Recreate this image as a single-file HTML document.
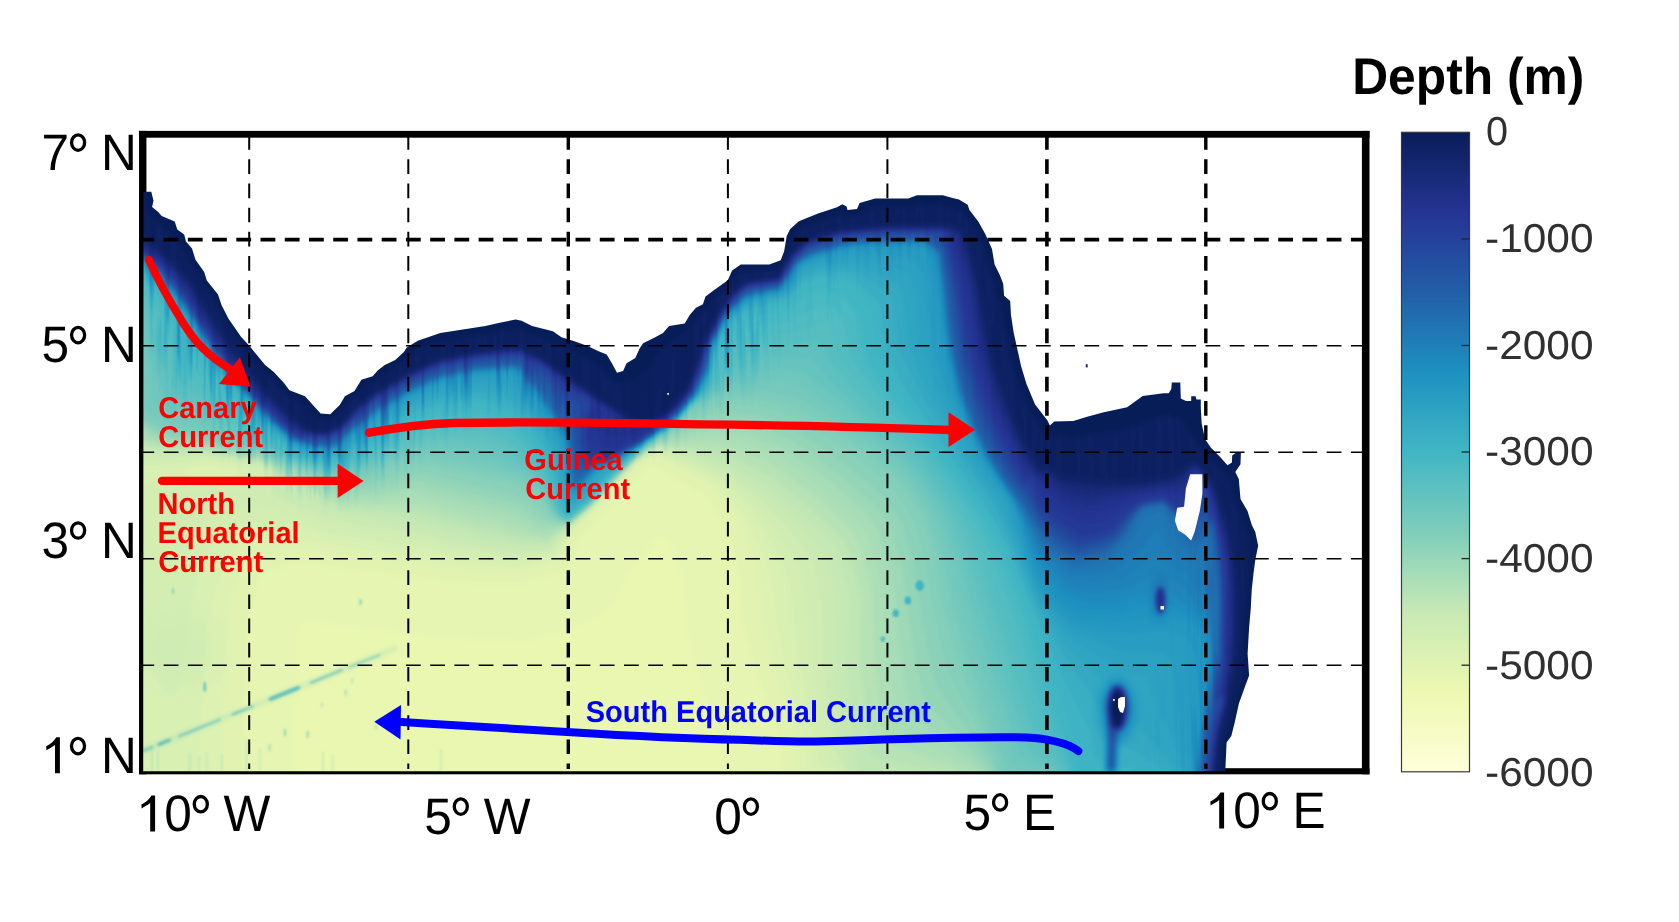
<!DOCTYPE html>
<html><head><meta charset="utf-8"><title>Gulf of Guinea bathymetry</title>
<style>html,body{margin:0;padding:0;background:#fff}svg{display:block}text{font-family:"Liberation Sans",sans-serif;text-rendering:geometricPrecision}</style>
</head><body>
<svg width="1679" height="922" viewBox="0 0 1679 922">
<defs>
<filter id="cmap" x="0" y="0" width="1679" height="922" filterUnits="userSpaceOnUse" color-interpolation-filters="sRGB"><feComponentTransfer>
<feFuncR type="table" tableValues="0.031 0.145 0.133 0.114 0.255 0.498 0.780 0.929 1.000"/><feFuncG type="table" tableValues="0.114 0.204 0.369 0.569 0.714 0.804 0.914 0.973 1.000"/><feFuncB type="table" tableValues="0.345 0.580 0.659 0.753 0.769 0.733 0.706 0.694 0.851"/>
</feComponentTransfer></filter>
<filter id="b1" x="0" y="0" width="1679" height="922" filterUnits="userSpaceOnUse" color-interpolation-filters="sRGB"><feGaussianBlur stdDeviation="1"/></filter>
<filter id="b1_5" x="0" y="0" width="1679" height="922" filterUnits="userSpaceOnUse" color-interpolation-filters="sRGB"><feGaussianBlur stdDeviation="1.5"/></filter>
<filter id="b2" x="0" y="0" width="1679" height="922" filterUnits="userSpaceOnUse" color-interpolation-filters="sRGB"><feGaussianBlur stdDeviation="2"/></filter>
<filter id="b3" x="0" y="0" width="1679" height="922" filterUnits="userSpaceOnUse" color-interpolation-filters="sRGB"><feGaussianBlur stdDeviation="3"/></filter>
<filter id="b4" x="0" y="0" width="1679" height="922" filterUnits="userSpaceOnUse" color-interpolation-filters="sRGB"><feGaussianBlur stdDeviation="4"/></filter>
<filter id="b5" x="0" y="0" width="1679" height="922" filterUnits="userSpaceOnUse" color-interpolation-filters="sRGB"><feGaussianBlur stdDeviation="5"/></filter>
<filter id="b6" x="0" y="0" width="1679" height="922" filterUnits="userSpaceOnUse" color-interpolation-filters="sRGB"><feGaussianBlur stdDeviation="6"/></filter>
<filter id="b8" x="0" y="0" width="1679" height="922" filterUnits="userSpaceOnUse" color-interpolation-filters="sRGB"><feGaussianBlur stdDeviation="8"/></filter>
<filter id="b10" x="0" y="0" width="1679" height="922" filterUnits="userSpaceOnUse" color-interpolation-filters="sRGB"><feGaussianBlur stdDeviation="10"/></filter>
<filter id="b12" x="0" y="0" width="1679" height="922" filterUnits="userSpaceOnUse" color-interpolation-filters="sRGB"><feGaussianBlur stdDeviation="12"/></filter>
<filter id="b15" x="0" y="0" width="1679" height="922" filterUnits="userSpaceOnUse" color-interpolation-filters="sRGB"><feGaussianBlur stdDeviation="15"/></filter>
<filter id="b18" x="0" y="0" width="1679" height="922" filterUnits="userSpaceOnUse" color-interpolation-filters="sRGB"><feGaussianBlur stdDeviation="18"/></filter>
<filter id="b20" x="0" y="0" width="1679" height="922" filterUnits="userSpaceOnUse" color-interpolation-filters="sRGB"><feGaussianBlur stdDeviation="20"/></filter>
<filter id="b25" x="0" y="0" width="1679" height="922" filterUnits="userSpaceOnUse" color-interpolation-filters="sRGB"><feGaussianBlur stdDeviation="25"/></filter>
<filter id="b30" x="0" y="0" width="1679" height="922" filterUnits="userSpaceOnUse" color-interpolation-filters="sRGB"><feGaussianBlur stdDeviation="30"/></filter>
<filter id="b40" x="0" y="0" width="1679" height="922" filterUnits="userSpaceOnUse" color-interpolation-filters="sRGB"><feGaussianBlur stdDeviation="40"/></filter>
<filter id="b50" x="0" y="0" width="1679" height="922" filterUnits="userSpaceOnUse" color-interpolation-filters="sRGB"><feGaussianBlur stdDeviation="50"/></filter>
<filter id="b60" x="0" y="0" width="1679" height="922" filterUnits="userSpaceOnUse" color-interpolation-filters="sRGB"><feGaussianBlur stdDeviation="60"/></filter>
<clipPath id="oc"><path d="M143.2 771.25 L143.5 191.8 L151.3 191.8 L153.5 200.8 L152.1 206.9 L158.2 212.1 L161.7 216.1 L174.7 221.6 L177.3 229.4 L184.2 234.6 L186.0 241.6 L192.0 248.5 L195.5 259.8 L204.2 272.0 L206.8 280.6 L218.0 294.5 L221.5 304.9 L228.5 318.8 L234.6 327.5 L240.8 336.4 L249.5 346.0 L257.3 355.5 L265.1 365.0 L273.8 372.0 L284.2 383.3 L289.4 390.2 L305.0 396.3 L312.0 404.1 L320.6 413.6 L330.2 414.2 L339.7 405.0 L344.9 396.3 L354.5 391.0 L361.4 379.8 L372.7 376.3 L377.9 370.3 L384.8 365.0 L395.2 359.9 L403.9 352.0 L406.5 347.7 L417.8 340.8 L440.3 333.0 L462.9 329.5 L485.4 326.0 L500.8 322.5 L515.6 319.6 L521.6 320.8 L532.0 326.0 L552.9 331.2 L561.5 337.3 L573.7 341.0 L587.6 345.9 L598.0 351.1 L606.7 354.6 L611.9 363.3 L617.0 372.8 L623.1 371.1 L626.6 363.3 L635.3 358.1 L639.6 348.5 L643.1 343.3 L655.2 337.3 L663.0 332.9 L669.1 326.0 L684.7 323.4 L689.9 314.7 L696.0 307.8 L702.9 304.3 L705.5 296.5 L712.5 291.3 L727.8 280.2 L732.1 270.6 L740.8 264.6 L769.4 264.6 L780.7 260.2 L784.1 251.5 L786.7 235.9 L790.2 229.0 L798.9 221.2 L818.0 213.4 L837.0 207.3 L842.3 204.2 L846.6 206.4 L847.5 209.9 L857.0 209.0 L859.6 203.0 L875.2 198.6 L908.2 198.6 L916.9 195.2 L942.9 195.2 L951.6 197.8 L959.0 199.5 L967.7 204.7 L969.4 210.0 L978.1 221.2 L985.0 233.4 L992.0 249.0 L994.6 264.6 L999.8 275.0 L1003.2 283.7 L1004.1 295.8 L1010.2 301.0 L1011.0 314.9 L1013.6 332.3 L1016.9 347.3 L1021.2 366.4 L1026.4 383.8 L1035.1 404.6 L1047.3 420.2 L1049.9 425.4 L1054.2 421.6 L1073.3 421.1 L1087.2 416.7 L1102.8 412.4 L1127.1 407.2 L1142.7 395.9 L1163.5 393.3 L1168.7 393.3 L1171.3 389.0 L1171.8 382.4 L1180.3 382.4 L1180.8 398.5 L1186.0 401.1 L1191.2 401.1 L1191.2 396.3 L1195.6 396.3 L1196.5 399.4 L1200.8 399.4 L1200.8 408.1 L1201.7 423.7 L1205.1 439.3 L1211.0 447.8 L1219.7 456.5 L1227.5 465.2 L1231.9 462.6 L1232.2 455.6 L1236.2 452.5 L1240.9 452.5 L1240.5 464.3 L1235.3 472.1 L1238.8 479.0 L1240.5 499.0 L1247.5 511.1 L1251.8 525.0 L1255.3 532.0 L1258.2 545.8 L1255.3 559.7 L1253.5 573.6 L1251.8 589.2 L1251.2 600.0 L1250.8 608.2 L1249.1 627.7 L1247.6 653.7 L1249.1 675.4 L1244.3 688.4 L1238.9 703.6 L1234.6 723.1 L1231.3 736.1 L1226.6 742.6 L1225.3 771.2 Z"/></clipPath>
<path id="coast" d="M143.5 191.8 L151.3 191.8 L153.5 200.8 L152.1 206.9 L158.2 212.1 L161.7 216.1 L174.7 221.6 L177.3 229.4 L184.2 234.6 L186.0 241.6 L192.0 248.5 L195.5 259.8 L204.2 272.0 L206.8 280.6 L218.0 294.5 L221.5 304.9 L228.5 318.8 L234.6 327.5 L240.8 336.4 L249.5 346.0 L257.3 355.5 L265.1 365.0 L273.8 372.0 L284.2 383.3 L289.4 390.2 L305.0 396.3 L312.0 404.1 L320.6 413.6 L330.2 414.2 L339.7 405.0 L344.9 396.3 L354.5 391.0 L361.4 379.8 L372.7 376.3 L377.9 370.3 L384.8 365.0 L395.2 359.9 L403.9 352.0 L406.5 347.7 L417.8 340.8 L440.3 333.0 L462.9 329.5 L485.4 326.0 L500.8 322.5 L515.6 319.6 L521.6 320.8 L532.0 326.0 L552.9 331.2 L561.5 337.3 L573.7 341.0 L587.6 345.9 L598.0 351.1 L606.7 354.6 L611.9 363.3 L617.0 372.8 L623.1 371.1 L626.6 363.3 L635.3 358.1 L639.6 348.5 L643.1 343.3 L655.2 337.3 L663.0 332.9 L669.1 326.0 L684.7 323.4 L689.9 314.7 L696.0 307.8 L702.9 304.3 L705.5 296.5 L712.5 291.3 L727.8 280.2 L732.1 270.6 L740.8 264.6 L769.4 264.6 L780.7 260.2 L784.1 251.5 L786.7 235.9 L790.2 229.0 L798.9 221.2 L818.0 213.4 L837.0 207.3 L842.3 204.2 L846.6 206.4 L847.5 209.9 L857.0 209.0 L859.6 203.0 L875.2 198.6 L908.2 198.6 L916.9 195.2 L942.9 195.2 L951.6 197.8 L959.0 199.5 L967.7 204.7 L969.4 210.0 L978.1 221.2 L985.0 233.4 L992.0 249.0 L994.6 264.6 L999.8 275.0 L1003.2 283.7 L1004.1 295.8 L1010.2 301.0 L1011.0 314.9 L1013.6 332.3 L1016.9 347.3 L1021.2 366.4 L1026.4 383.8 L1035.1 404.6 L1047.3 420.2 L1049.9 425.4 L1054.2 421.6 L1073.3 421.1 L1087.2 416.7 L1102.8 412.4 L1127.1 407.2 L1142.7 395.9 L1163.5 393.3 L1168.7 393.3 L1171.3 389.0 L1171.8 382.4 L1180.3 382.4 L1180.8 398.5 L1186.0 401.1 L1191.2 401.1 L1191.2 396.3 L1195.6 396.3 L1196.5 399.4 L1200.8 399.4 L1200.8 408.1 L1201.7 423.7 L1205.1 439.3 L1211.0 447.8 L1219.7 456.5 L1227.5 465.2 L1231.9 462.6 L1232.2 455.6 L1236.2 452.5 L1240.9 452.5 L1240.5 464.3 L1235.3 472.1 L1238.8 479.0 L1240.5 499.0 L1247.5 511.1 L1251.8 525.0 L1255.3 532.0 L1258.2 545.8 L1255.3 559.7 L1253.5 573.6 L1251.8 589.2 L1251.2 600.0 L1250.8 608.2 L1249.1 627.7 L1247.6 653.7 L1249.1 675.4 L1244.3 688.4 L1238.9 703.6 L1234.6 723.1 L1231.3 736.1 L1226.6 742.6 L1225.3 771.2"/>
<linearGradient id="cbg" x1="0" y1="0" x2="0" y2="1">
<stop offset="0.000" stop-color="rgb(8,29,88)"/><stop offset="0.125" stop-color="rgb(37,52,148)"/><stop offset="0.250" stop-color="rgb(34,94,168)"/><stop offset="0.375" stop-color="rgb(29,145,192)"/><stop offset="0.500" stop-color="rgb(65,182,196)"/><stop offset="0.625" stop-color="rgb(127,205,187)"/><stop offset="0.750" stop-color="rgb(199,233,180)"/><stop offset="0.875" stop-color="rgb(237,248,177)"/><stop offset="1.000" stop-color="rgb(255,255,217)"/></linearGradient>
<filter id="streak" x="130" y="180" width="1140" height="600" filterUnits="userSpaceOnUse" color-interpolation-filters="sRGB">
<feTurbulence type="fractalNoise" baseFrequency="0.16 0.009" numOctaves="2" seed="7"/>
<feColorMatrix type="matrix" values="0 0 0 0 0  0 0 0 0 0  0 0 0 0 0  2.6 0 0 0 -1.12"/>
</filter>
<mask id="smask" maskUnits="userSpaceOnUse" x="130" y="180" width="1140" height="600">
<path d="M143.5 191.8 L151.3 191.8 L153.5 200.8 L152.1 206.9 L158.2 212.1 L161.7 216.1 L174.7 221.6 L177.3 229.4 L184.2 234.6 L186.0 241.6 L192.0 248.5 L195.5 259.8 L204.2 272.0 L206.8 280.6 L218.0 294.5 L221.5 304.9 L228.5 318.8 L234.6 327.5 L240.8 336.4 L249.5 346.0 L257.3 355.5 L265.1 365.0 L273.8 372.0 L284.2 383.3 L289.4 390.2 L305.0 396.3 L312.0 404.1 L320.6 413.6 L330.2 414.2 L339.7 405.0 L344.9 396.3 L354.5 391.0 L361.4 379.8 L372.7 376.3 L377.9 370.3 L384.8 365.0 L395.2 359.9 L403.9 352.0 L406.5 347.7 L417.8 340.8 L440.3 333.0 L462.9 329.5 L485.4 326.0 L500.8 322.5 L515.6 319.6 L521.6 320.8 L532.0 326.0 L552.9 331.2 L561.5 337.3 L573.7 341.0 L587.6 345.9 L598.0 351.1 L606.7 354.6 L611.9 363.3 L617.0 372.8 L623.1 371.1 L626.6 363.3 L635.3 358.1 L639.6 348.5 L643.1 343.3 L655.2 337.3 L663.0 332.9 L669.1 326.0 L684.7 323.4 L689.9 314.7 L696.0 307.8 L702.9 304.3 L705.5 296.5 L712.5 291.3" fill="none" stroke="#fff" stroke-width="130" stroke-linejoin="round" filter="url(#b20)"/>
<path d="M702.9 304.3 L705.5 296.5 L712.5 291.3 L727.8 280.2 L732.1 270.6 L740.8 264.6 L769.4 264.6 L780.7 260.2 L784.1 251.5 L786.7 235.9 L790.2 229.0 L798.9 221.2 L818.0 213.4 L837.0 207.3 L842.3 204.2 L846.6 206.4 L847.5 209.9 L857.0 209.0 L859.6 203.0 L875.2 198.6 L908.2 198.6 L916.9 195.2 L942.9 195.2 L951.6 197.8 L959.0 199.5 L967.7 204.7 L969.4 210.0 L978.1 221.2 L985.0 233.4 L992.0 249.0 L994.6 264.6 L999.8 275.0 L1003.2 283.7 L1004.1 295.8 L1010.2 301.0 L1011.0 314.9 L1013.6 332.3 L1016.9 347.3 L1021.2 366.4 L1026.4 383.8 L1035.1 404.6 L1047.3 420.2 L1049.9 425.4 L1054.2 421.6 L1073.3 421.1 L1087.2 416.7 L1102.8 412.4 L1127.1 407.2 L1142.7 395.9 L1163.5 393.3 L1168.7 393.3 L1171.3 389.0 L1171.8 382.4 L1180.3 382.4 L1180.8 398.5 L1186.0 401.1 L1191.2 401.1 L1191.2 396.3 L1195.6 396.3 L1196.5 399.4 L1200.8 399.4 L1200.8 408.1 L1201.7 423.7 L1205.1 439.3 L1211.0 447.8 L1219.7 456.5 L1227.5 465.2 L1231.9 462.6 L1232.2 455.6 L1236.2 452.5 L1240.9 452.5 L1240.5 464.3 L1235.3 472.1 L1238.8 479.0 L1240.5 499.0 L1247.5 511.1 L1251.8 525.0 L1255.3 532.0 L1258.2 545.8 L1255.3 559.7 L1253.5 573.6 L1251.8 589.2 L1251.2 600.0 L1250.8 608.2 L1249.1 627.7 L1247.6 653.7 L1249.1 675.4 L1244.3 688.4 L1238.9 703.6 L1234.6 723.1 L1231.3 736.1 L1226.6 742.6 L1225.3 771.2" fill="none" stroke="#fff" stroke-opacity=".4" stroke-width="110" stroke-linejoin="round" filter="url(#b20)"/>
</mask>
</defs>
<rect width="1679" height="922" fill="#fff"/>
<g fill="#000"><rect x="139.04" y="130.9" width="7.4" height="643.4"/><rect x="1361.9" y="130.9" width="7.6" height="643.4"/><rect x="139.04" y="130.9" width="1230.46" height="6.8"/><rect x="139.04" y="768.2" width="1230.46" height="6.1"/></g>
<g clip-path="url(#oc)"><g filter="url(#cmap)">
<g filter="url(#b2)">
<rect x="120" y="170" width="1160" height="620" fill="rgb(223,223,223)"/>
<path fill="rgb(221,221,221)" fill-rule="evenodd" d="M130.0,180.0 1270.0,180.0 1270.0,780.0 130.0,780.0Z"/>
<path fill="rgb(218,218,218)" fill-rule="evenodd" d="M130.0,180.0 1270.0,180.0 1270.0,780.0 726.5,780.0 723.1,748.0 705.2,698.0 688.3,638.0 680.9,572.0 672.9,548.0 667.1,540.0 662.0,537.1 660.0,537.1 656.0,540.2 629.8,568.0 627.6,572.0 621.4,588.0 617.2,596.0 610.0,605.8 602.0,613.6 592.0,620.3 582.0,624.9 536.0,638.7 526.0,640.4 514.0,640.6 444.0,638.5 322.0,623.1 306.0,621.6 302.0,622.0 300.0,625.0 295.1,704.0 292.1,780.0 130.0,780.0Z"/>
<path fill="rgb(214,214,214)" fill-rule="evenodd" d="M130.0,180.0 1270.0,180.0 1270.0,780.0 783.3,780.0 779.3,738.0 759.4,682.0 744.0,628.0 737.3,564.0 725.6,526.0 710.0,501.7 706.0,497.1 658.0,468.5 654.0,467.6 648.0,468.8 644.0,470.7 582.0,536.3 579.4,540.0 570.2,564.0 566.0,569.9 560.0,572.8 526.0,583.0 520.0,584.1 448.0,582.1 302.0,563.2 296.0,563.8 282.0,567.3 262.0,573.9 260.1,576.0 250.0,609.6 248.8,616.0 244.7,700.0 242.1,780.0 130.0,780.0Z"/>
<path fill="rgb(210,210,210)" fill-rule="evenodd" d="M130.0,180.0 1270.0,180.0 1270.0,780.0 799.3,780.0 794.2,732.0 776.5,678.0 762.7,624.0 759.2,592.0 753.9,560.0 739.0,520.0 732.4,510.0 715.5,488.0 661.8,458.0 658.0,456.7 643.9,460.0 640.0,462.0 596.5,508.0 572.0,532.6 569.9,536.0 560.9,556.0 558.0,560.4 552.0,562.8 522.0,570.7 514.0,571.4 450.0,568.3 364.0,556.7 300.0,546.9 268.0,551.6 254.0,554.7 248.0,556.8 244.8,560.0 243.0,564.0 233.6,592.0 228.7,610.0 223.8,698.0 221.3,780.0 130.0,780.0Z"/>
<path fill="rgb(206,206,206)" fill-rule="evenodd" d="M130.0,180.0 1270.0,180.0 1270.0,780.0 821.9,780.0 811.1,776.0 808.8,774.0 808.0,771.6 803.3,730.0 788.3,676.0 783.9,656.0 777.0,620.0 776.0,606.0 772.8,584.0 766.2,560.0 763.1,552.0 745.2,516.0 720.1,486.0 716.0,483.2 690.0,469.4 663.0,456.0 658.0,454.5 645.3,458.0 640.7,460.0 638.0,462.1 594.7,508.0 570.2,532.0 558.0,554.9 556.0,557.5 550.0,559.8 522.0,566.0 514.0,566.7 480.0,564.6 450.0,561.9 410.0,555.2 364.0,549.0 332.0,544.0 298.0,537.2 278.0,537.8 256.0,539.4 246.0,540.9 238.0,544.2 231.8,550.0 227.3,558.0 217.2,584.0 210.5,606.0 203.8,672.0 198.1,760.0 196.7,766.0 186.0,780.0 130.0,780.0 130.0,486.8 132.0,480.0 132.7,474.0 130.0,467.2ZM181.1,472.0 183.0,474.0 192.0,476.8 202.0,478.0 216.0,478.2 226.0,477.7 234.0,476.2 238.7,474.0 240.0,472.0 239.2,470.0 232.0,466.8 224.0,465.4 210.0,464.7 198.0,465.4 190.0,466.9 182.2,470.0Z"/>
<path fill="rgb(203,203,203)" fill-rule="evenodd" d="M130.0,180.0 1270.0,180.0 1270.0,780.0 837.8,780.0 819.4,768.0 817.5,766.0 816.7,764.0 812.4,728.0 797.5,660.0 791.8,618.0 791.0,604.0 786.9,580.0 779.7,560.0 775.0,550.0 750.0,510.1 722.2,482.0 690.0,465.5 660.0,452.9 656.0,453.2 642.0,458.3 638.0,461.2 594.0,507.5 570.0,530.3 555.0,554.0 552.0,556.1 516.0,562.1 482.0,559.5 452.0,555.8 412.0,548.1 362.0,541.1 322.8,534.0 302.0,528.0 294.0,526.6 266.0,524.4 248.0,523.9 238.0,525.4 230.0,528.4 221.8,534.0 214.9,542.0 209.6,552.0 201.4,572.0 193.7,594.0 191.0,604.0 180.0,679.0 178.0,687.6 176.0,691.1 174.0,692.6 170.0,694.0 168.0,693.7 164.0,690.8 161.8,688.0 158.0,679.8 155.0,670.0 148.9,642.0 144.6,614.0 140.8,578.0 139.5,550.0 140.0,502.0 140.6,494.0 141.8,490.0 143.9,486.0 146.0,483.7 150.0,481.1 156.0,479.5 164.0,479.4 196.0,482.7 228.0,482.9 238.0,481.5 248.0,478.5 252.3,476.0 253.9,474.0 254.3,472.0 253.3,470.0 250.8,468.0 240.3,464.0 228.9,462.0 216.0,461.1 204.0,461.0 191.2,462.0 160.0,467.6 150.0,468.1 144.0,467.0 138.0,464.5 134.0,461.9 130.0,457.6Z"/>
<path fill="rgb(199,199,199)" fill-rule="evenodd" d="M130.0,180.0 1270.0,180.0 1270.0,780.0 844.7,780.0 827.4,760.0 825.1,756.0 821.5,726.0 810.6,664.0 806.0,602.0 799.5,570.0 790.0,552.0 779.5,536.0 757.8,508.0 752.0,501.9 726.8,480.0 720.4,476.0 692.0,462.5 662.0,451.6 658.0,451.3 654.0,452.5 642.0,457.4 638.0,460.2 594.0,506.5 568.7,530.0 554.0,550.8 550.0,553.4 516.0,557.5 482.0,554.1 448.0,548.6 412.0,540.6 364.0,533.8 332.0,528.0 296.0,516.2 258.0,507.8 248.0,506.8 236.0,507.2 228.0,508.5 222.0,510.6 214.0,514.9 206.0,521.2 199.9,528.0 195.9,534.0 188.0,549.7 186.0,552.3 184.0,553.2 180.0,551.7 176.0,548.7 172.0,543.6 168.9,538.0 165.9,530.0 161.2,512.0 159.4,502.0 160.2,496.0 162.0,493.3 168.0,490.1 176.0,489.0 206.0,488.5 228.0,489.6 238.0,488.7 248.0,486.4 258.0,482.8 265.1,478.0 267.0,474.0 266.3,472.0 264.0,470.0 255.5,466.0 242.7,462.0 232.7,460.0 216.0,458.3 204.0,457.9 164.0,461.1 152.0,461.2 144.0,460.0 138.0,458.0 134.0,455.6 131.1,452.0 130.0,449.3Z"/>
<path fill="rgb(195,195,195)" fill-rule="evenodd" d="M130.0,180.0 1270.0,180.0 1270.0,780.0 849.0,780.0 834.9,752.0 832.9,746.0 822.7,662.0 821.4,602.0 813.3,566.0 811.0,560.0 788.6,530.0 768.3,508.0 756.0,496.2 734.4,480.0 724.0,473.1 694.0,459.6 664.0,450.4 660.0,449.6 656.0,450.4 643.4,456.0 638.0,459.5 593.7,506.0 567.3,530.0 552.0,548.8 550.0,550.0 546.0,550.8 516.0,552.8 480.0,548.4 450.0,542.5 414.0,533.5 396.0,530.3 364.0,526.2 330.0,519.2 284.2,500.0 276.7,496.0 274.0,493.4 272.8,490.0 277.2,480.0 277.4,478.0 275.0,474.0 270.3,470.0 266.4,468.0 255.4,464.0 241.3,460.0 230.0,458.0 206.0,455.6 166.0,456.6 154.0,456.3 146.0,455.3 138.0,453.0 134.0,450.0 132.5,446.0 130.0,419.1Z"/>
<path fill="rgb(191,191,191)" fill-rule="evenodd" d="M130.0,180.0 1270.0,180.0 1270.0,780.0 853.9,780.0 851.5,778.0 850.1,774.0 841.0,738.0 834.9,662.0 836.6,600.0 825.2,556.0 822.7,552.0 795.7,522.0 761.7,492.0 727.4,470.0 692.0,455.2 660.0,448.1 656.0,449.1 642.0,456.0 634.8,462.0 593.0,506.0 565.8,530.0 551.0,546.0 546.0,547.6 518.0,548.3 482.0,543.3 450.3,536.0 416.0,526.4 398.0,523.0 366.0,518.8 334.0,512.1 313.4,502.0 299.3,494.0 294.0,489.4 283.8,478.0 272.0,468.8 266.0,466.0 246.5,460.0 234.0,457.2 208.9,454.0 164.0,452.8 148.0,451.2 138.0,448.8 136.0,446.6 135.2,444.0 130.0,398.4Z"/>
<path fill="rgb(188,188,188)" fill-rule="evenodd" d="M130.0,180.0 1270.0,180.0 1270.0,780.0 942.7,780.0 864.0,773.7 860.0,772.6 857.8,768.0 852.2,734.0 847.2,662.0 850.1,600.0 849.0,594.0 836.7,550.0 832.0,544.0 800.0,512.0 766.0,485.1 730.0,464.8 696.0,452.5 674.0,448.5 660.0,446.7 656.0,447.9 642.0,455.4 634.2,462.0 592.0,506.3 572.0,524.1 564.2,530.0 550.0,543.3 548.0,544.2 544.0,544.4 516.0,543.3 478.3,536.0 452.0,529.4 418.0,519.4 400.0,516.4 368.0,513.1 336.0,506.7 316.0,496.6 302.0,488.5 280.0,472.0 272.0,466.9 262.0,463.1 242.0,457.6 208.0,452.3 170.0,450.6 152.0,448.4 140.0,445.9 138.4,444.0 133.2,418.0 130.0,387.5Z"/>
<path fill="rgb(184,184,184)" fill-rule="evenodd" d="M130.0,180.0 1270.0,180.0 1270.0,780.0 976.8,780.0 880.0,759.1 874.0,757.1 872.0,753.6 867.8,732.0 860.7,662.0 861.4,598.0 856.2,576.0 848.9,550.0 846.6,544.0 840.3,536.0 808.0,504.7 774.0,478.2 768.0,474.2 752.0,465.7 735.9,458.0 728.0,455.0 694.0,447.6 662.0,445.4 656.0,446.8 638.0,457.7 618.0,477.9 592.0,505.7 572.0,523.4 548.0,540.3 544.0,540.8 518.0,537.5 500.0,532.3 484.0,529.3 456.0,522.4 418.0,511.8 402.0,510.1 370.0,508.5 338.0,503.2 330.0,500.0 308.0,488.6 277.1,468.0 270.0,464.3 263.1,462.0 242.0,456.3 226.0,453.4 206.0,450.5 168.0,448.1 146.0,444.4 142.0,442.9 140.0,439.0 134.2,418.0 130.0,379.8Z"/>
<path fill="rgb(180,180,180)" fill-rule="evenodd" d="M130.0,180.0 1270.0,180.0 1270.0,780.0 988.0,780.0 888.0,742.6 885.8,740.0 883.5,730.0 875.0,668.0 874.0,656.0 872.6,596.0 867.6,574.0 859.8,546.0 857.4,540.0 854.0,534.4 850.0,529.5 832.0,512.0 814.5,496.0 796.0,481.6 778.0,468.4 772.0,464.7 752.0,455.0 734.0,448.0 718.0,444.2 698.0,442.8 662.0,444.0 656.0,445.6 638.0,457.2 618.0,477.3 592.0,505.2 572.0,522.8 568.0,525.5 548.0,535.9 544.0,536.7 522.4,532.0 502.0,524.7 460.0,515.4 418.0,504.1 404.0,503.3 372.0,503.8 338.0,499.3 330.0,496.3 310.0,486.5 300.0,480.8 280.4,468.0 272.9,464.0 266.0,461.5 242.0,455.1 220.0,451.1 202.0,448.5 170.0,446.1 146.0,441.1 144.0,439.8 142.9,438.0 135.0,418.0 130.0,373.7Z"/>
<path fill="rgb(177,177,177)" fill-rule="evenodd" d="M130.0,180.0 1270.0,180.0 1270.0,780.0 992.6,780.0 902.0,729.0 899.2,726.0 898.1,722.0 888.8,668.0 887.5,656.0 883.5,592.0 879.1,572.0 870.0,540.0 867.2,534.0 862.0,526.0 854.8,518.0 824.0,489.8 803.6,474.0 778.0,456.3 756.0,446.1 744.0,441.8 730.0,438.2 712.0,435.6 700.0,436.8 658.0,443.5 652.0,446.9 638.0,456.7 618.0,476.7 592.0,504.7 570.0,523.7 556.0,529.0 544.0,532.3 535.1,530.0 512.0,519.8 504.0,517.2 460.0,507.4 420.0,496.8 408.0,496.1 372.0,499.0 338.0,495.4 330.0,492.6 312.0,484.3 280.2,466.0 266.0,460.0 242.0,453.9 202.0,446.6 170.0,443.5 148.0,438.2 146.0,436.5 135.7,418.0 130.0,368.0Z"/>
<path fill="rgb(173,173,173)" fill-rule="evenodd" d="M130.0,180.0 1270.0,180.0 1270.0,780.0 995.7,780.0 936.0,731.7 915.1,716.0 912.1,712.0 904.8,680.0 901.8,662.0 897.0,618.0 895.5,596.0 893.1,582.0 890.0,568.0 880.9,536.0 876.9,528.0 872.0,520.4 865.3,512.0 841.0,490.0 828.0,479.1 808.0,464.0 782.0,446.8 756.0,435.8 732.0,430.0 710.0,427.7 702.0,429.5 684.0,435.6 658.0,442.4 652.0,445.9 638.0,456.2 618.0,476.1 592.0,504.2 570.0,523.2 566.0,524.9 546.0,527.4 539.0,526.0 518.0,514.0 506.0,509.6 462.0,499.9 420.0,489.1 406.0,488.9 372.0,494.1 338.0,491.5 330.0,489.0 312.0,481.2 283.7,466.0 268.0,459.2 242.0,452.6 208.0,445.7 170.0,440.9 150.0,435.3 140.0,423.9 136.5,418.0 130.0,362.9Z"/>
<path fill="rgb(169,169,169)" fill-rule="evenodd" d="M130.0,180.0 1270.0,180.0 1270.0,780.0 997.9,780.0 950.0,726.3 927.8,704.0 925.0,700.0 918.4,676.0 915.7,662.0 909.2,618.0 906.5,592.0 902.0,568.0 891.8,532.0 888.9,526.0 882.8,516.0 876.0,506.6 871.5,502.0 843.9,478.0 814.0,455.2 786.0,437.3 758.0,426.3 730.0,421.2 706.0,420.7 702.0,421.9 682.4,432.0 658.0,441.2 650.0,446.4 638.0,455.7 618.0,475.5 589.5,506.0 570.0,522.6 568.0,523.7 564.0,524.2 550.0,523.4 544.7,522.0 537.0,518.0 524.0,508.5 508.0,502.0 464.0,492.4 420.0,481.4 406.0,481.5 372.0,489.2 346.0,488.5 336.0,487.3 330.0,485.5 312.0,478.1 283.3,464.0 268.0,457.7 206.0,443.5 170.0,438.4 152.0,432.7 140.0,422.0 137.3,418.0 136.0,411.3 130.0,357.4Z"/>
<path fill="rgb(165,165,165)" fill-rule="evenodd" d="M130.0,180.0 1270.0,180.0 1270.0,780.0 1000.0,780.0 997.7,778.0 962.0,722.5 937.0,688.0 932.0,672.0 929.2,660.0 920.7,614.0 917.3,588.0 913.0,564.0 902.0,526.0 893.7,512.0 882.0,495.9 851.6,470.0 820.0,446.4 790.0,427.8 762.0,417.6 750.0,415.3 730.0,413.0 708.0,413.5 700.0,415.3 681.7,428.0 658.0,440.1 640.0,453.5 618.0,475.0 590.0,505.1 572.0,520.6 568.0,523.2 566.0,523.5 554.0,521.0 550.0,519.5 530.0,503.5 512.0,495.1 462.0,484.0 422.0,474.1 416.0,473.6 404.0,474.5 370.0,484.5 346.0,484.5 336.0,483.7 330.0,482.1 308.0,473.6 278.0,460.0 268.0,456.3 206.0,441.5 172.0,436.2 154.0,430.3 142.0,422.0 138.0,417.8 130.0,351.5Z"/>
<path fill="rgb(162,162,162)" fill-rule="evenodd" d="M130.0,180.0 1270.0,180.0 1270.0,780.0 1005.0,780.0 1000.0,778.3 995.3,770.0 972.0,719.3 950.2,680.0 946.8,672.0 943.7,662.0 932.4,612.0 924.4,562.0 912.9,522.0 906.0,510.0 894.0,492.0 890.0,487.4 859.2,462.0 828.0,439.1 794.0,418.3 760.0,407.4 730.0,404.9 706.0,407.0 696.0,410.1 678.6,426.0 653.7,442.0 638.0,454.8 616.5,476.0 590.0,504.6 570.0,521.6 566.0,522.9 556.0,519.4 552.0,517.0 534.0,497.0 512.0,486.8 454.0,474.2 420.0,466.0 402.0,467.7 370.0,479.5 354.0,480.4 336.0,480.2 302.0,469.2 268.0,454.8 204.0,438.9 172.0,433.6 154.0,427.0 140.0,418.7 138.0,414.3 130.0,344.4Z"/>
<path fill="rgb(158,158,158)" fill-rule="evenodd" d="M130.0,180.0 1270.0,180.0 1270.0,780.0 1032.4,780.0 1006.0,778.3 1002.0,777.2 1000.0,774.2 980.2,716.0 957.3,660.0 943.0,606.0 935.7,560.0 924.0,519.4 921.8,514.0 902.0,483.7 896.4,478.0 864.0,452.0 832.0,429.0 800.2,410.0 794.0,407.3 764.0,398.8 750.0,397.8 726.0,397.7 704.0,401.9 698.0,404.1 692.4,408.0 676.0,425.9 650.0,444.0 638.0,454.3 617.9,474.0 590.0,504.2 570.0,521.1 566.0,522.3 562.0,520.9 553.8,516.0 538.0,492.9 519.7,482.0 514.0,479.7 420.0,458.6 400.0,461.5 368.0,475.4 346.0,477.1 334.0,477.0 302.0,467.5 268.0,453.2 206.0,436.7 172.0,430.3 160.0,426.0 142.3,418.0 140.2,416.0 130.0,334.3Z"/>
<path fill="rgb(154,154,154)" fill-rule="evenodd" d="M130.0,180.0 1270.0,180.0 1270.0,780.0 1054.8,780.0 1010.0,773.6 1006.6,772.0 1004.7,768.0 988.7,714.0 966.8,656.0 952.3,604.0 943.6,558.0 928.4,512.0 907.4,480.0 902.0,474.0 870.0,447.3 836.0,421.3 804.0,400.3 794.0,395.8 766.0,390.7 752.0,391.2 726.0,393.4 708.0,398.2 698.0,402.1 692.0,406.6 676.0,424.7 651.8,442.0 638.0,453.8 617.3,474.0 589.6,504.0 570.0,520.7 566.0,521.7 558.8,518.0 554.0,514.0 541.1,492.0 534.0,486.2 518.0,475.8 484.0,465.6 432.0,455.1 420.0,453.5 398.0,458.0 366.0,472.3 344.0,474.6 334.0,474.6 304.0,466.9 290.0,461.5 270.0,452.2 236.4,442.0 208.0,432.2 174.0,423.5 148.0,412.2 145.9,410.0 144.8,406.0 130.0,315.5Z"/>
<path fill="rgb(151,151,151)" fill-rule="evenodd" d="M130.0,180.0 1270.0,180.0 1270.0,780.0 1063.6,780.0 1022.0,767.5 1014.0,764.5 1011.5,760.0 996.8,710.0 976.4,654.0 961.8,604.0 956.0,576.0 951.0,556.0 934.0,509.9 911.5,476.0 906.0,469.8 876.0,443.3 840.0,413.6 808.0,389.8 796.0,383.3 784.0,381.3 764.0,381.4 726.0,389.3 700.0,399.7 692.0,405.6 674.0,425.6 651.1,442.0 638.0,453.3 616.8,474.0 590.0,503.1 572.0,518.6 568.0,521.1 566.0,521.1 563.4,520.0 556.0,514.5 542.0,489.4 524.0,474.5 516.0,469.9 486.0,458.6 470.0,454.8 428.0,448.7 420.0,448.6 398.0,454.4 366.0,468.9 346.0,472.0 334.0,472.4 314.0,468.5 300.0,464.2 289.2,460.0 270.0,450.4 236.9,438.0 208.0,425.2 178.0,415.3 158.8,406.0 156.0,404.0 154.0,399.4 130.0,294.4Z"/>
<path fill="rgb(147,147,147)" fill-rule="evenodd" d="M130.0,180.0 1270.0,180.0 1270.0,780.0 1068.0,780.0 1020.5,756.0 1018.5,752.0 1004.9,706.0 985.9,652.0 970.8,602.0 963.9,572.0 959.1,556.0 946.6,524.0 938.5,506.0 916.0,472.6 910.0,465.6 844.0,405.5 810.0,376.7 802.0,371.4 778.0,368.3 768.0,369.3 726.0,384.6 702.0,397.1 692.0,404.8 674.0,425.0 650.3,442.0 638.0,452.8 616.2,474.0 590.0,502.6 572.0,518.1 568.0,520.6 564.0,519.6 557.0,514.0 543.7,488.0 526.0,470.8 520.0,466.4 510.0,461.1 490.0,452.1 470.0,447.2 446.0,444.5 424.0,443.0 418.0,444.1 398.0,450.8 384.0,457.7 364.0,466.0 346.0,469.6 338.0,470.4 320.0,468.2 304.0,464.4 290.0,459.2 272.0,449.3 242.0,435.5 210.0,418.6 178.0,405.1 166.0,398.1 163.2,394.0 130.0,281.6Z"/>
<path fill="rgb(143,143,143)" fill-rule="evenodd" d="M130.0,180.0 1270.0,180.0 1270.0,780.0 1070.2,780.0 1028.0,748.1 1025.6,744.0 1013.7,704.0 995.4,650.0 979.3,598.0 970.3,564.0 962.7,544.0 945.4,506.0 922.4,472.0 916.0,463.5 886.0,434.0 866.4,416.0 850.0,398.9 828.2,378.0 812.0,360.2 808.1,358.0 774.0,356.6 766.0,357.4 754.0,362.8 724.0,380.3 704.0,394.1 692.0,404.1 674.0,424.4 649.7,442.0 638.0,452.3 616.0,473.6 590.0,502.1 571.4,518.0 568.0,520.1 566.0,519.9 558.3,514.0 555.8,510.0 545.0,486.0 532.0,470.9 526.0,465.1 514.0,456.4 498.0,447.3 474.0,440.2 444.0,437.8 422.0,437.7 398.0,447.0 386.0,453.3 365.7,462.0 342.0,467.8 334.0,468.0 314.0,465.8 304.0,463.1 290.0,458.0 272.0,446.8 245.0,432.0 216.0,413.9 182.0,396.3 175.3,392.0 172.0,388.2 162.0,362.0 140.5,300.0 130.0,273.3Z"/>
<path fill="rgb(139,139,139)" fill-rule="evenodd" d="M130.0,180.0 1270.0,180.0 1270.0,780.0 1072.0,780.0 1069.5,778.0 1035.0,740.0 1032.6,736.0 1001.0,634.0 988.3,596.0 979.3,564.0 964.3,530.0 951.1,504.0 940.5,488.0 920.5,460.0 910.0,448.6 873.2,412.0 839.2,374.0 832.8,366.0 820.7,346.0 818.0,342.8 814.0,342.4 798.0,344.9 774.0,345.4 766.0,346.2 758.0,348.3 744.0,357.2 724.0,373.7 692.0,403.6 673.9,424.0 668.0,428.9 651.7,440.0 637.7,452.0 616.0,472.9 589.4,502.0 570.7,518.0 568.0,519.5 566.0,519.2 564.0,518.0 558.1,512.0 546.0,483.3 534.7,468.0 526.0,458.8 518.0,451.9 502.0,441.1 476.0,432.9 444.0,431.3 420.0,432.8 398.0,443.0 382.0,451.7 364.0,459.1 344.0,465.1 336.0,465.9 318.0,465.0 312.0,464.0 294.0,458.4 288.9,456.0 274.0,445.4 250.0,430.0 220.0,408.4 186.0,387.4 182.0,384.3 180.3,382.0 170.0,359.8 144.5,298.0 132.0,271.6 130.1,266.0Z"/>
<path fill="rgb(136,136,136)" fill-rule="evenodd" d="M130.0,180.0 1270.0,180.0 1270.0,780.0 1073.9,780.0 1071.3,778.0 1039.5,728.0 1010.5,632.0 997.4,594.0 987.6,562.0 981.4,548.0 968.1,522.0 953.0,496.0 926.0,457.8 914.1,444.0 878.0,406.0 846.4,366.0 841.1,356.0 829.5,328.0 826.0,323.0 824.0,322.2 822.0,322.4 806.0,329.2 798.0,331.8 766.0,335.3 754.0,338.3 750.0,340.1 733.7,354.0 706.0,386.9 699.2,396.0 692.0,403.2 675.6,422.0 668.0,428.5 651.2,440.0 637.1,452.0 616.0,472.3 588.7,502.0 570.0,517.9 568.0,518.8 566.0,518.5 560.9,514.0 558.3,510.0 550.0,486.5 546.0,478.6 538.0,465.7 526.0,451.6 520.0,446.0 506.0,434.9 478.0,425.6 472.0,424.8 444.0,424.8 418.0,427.9 414.0,429.5 382.0,448.3 346.0,462.0 342.0,463.0 334.0,463.6 314.0,463.1 292.0,456.3 254.3,428.0 234.0,410.7 192.5,380.0 188.3,376.0 176.0,353.4 147.4,294.0 134.0,270.2 132.0,264.9 130.0,254.7Z"/>
<path fill="rgb(132,132,132)" fill-rule="evenodd" d="M130.0,180.0 1270.0,180.0 1270.0,780.0 1078.7,780.0 1076.0,779.5 1073.0,778.0 1069.0,770.0 1055.7,738.0 1046.4,720.0 1019.4,628.0 993.4,554.0 973.8,518.0 962.7,500.0 950.5,482.0 924.0,446.1 884.6,402.0 857.6,364.0 855.3,360.0 853.1,354.0 843.6,320.0 838.0,312.5 832.9,308.0 824.0,305.6 818.0,306.6 814.0,308.1 798.0,317.5 792.0,320.1 762.0,325.2 748.0,329.6 743.2,332.0 726.6,350.0 698.5,396.0 676.0,421.1 668.0,428.1 648.1,442.0 636.5,452.0 615.4,472.0 588.0,502.0 571.4,516.0 567.4,518.0 564.0,515.9 559.6,510.0 551.3,484.0 542.6,466.0 528.0,445.9 512.0,430.4 508.6,428.0 478.0,417.8 472.0,417.3 442.0,418.5 416.0,423.2 412.0,425.0 382.0,444.9 342.0,460.6 326.0,461.8 314.0,461.7 294.7,456.0 290.0,453.5 255.7,424.0 238.0,406.3 197.9,372.0 194.6,368.0 183.3,350.0 162.7,314.0 151.1,292.0 136.0,268.9 134.0,264.4 130.0,247.1Z"/>
<path fill="rgb(128,128,128)" fill-rule="evenodd" d="M130.0,180.0 1270.0,180.0 1270.0,780.0 1097.8,780.0 1078.0,778.6 1075.4,778.0 1074.0,776.6 1069.9,764.0 1062.0,734.8 1054.0,714.0 1050.3,702.0 1029.0,626.0 1001.7,552.0 980.6,516.0 957.6,482.0 926.0,439.1 890.9,398.0 868.1,362.0 864.4,354.0 857.7,314.0 846.0,298.2 842.0,294.5 826.0,290.0 822.0,289.8 808.0,294.1 790.0,307.2 786.0,309.3 758.0,315.3 738.0,323.2 734.0,327.7 720.0,347.3 709.6,374.0 699.4,394.0 682.1,414.0 670.0,426.2 650.1,440.0 635.8,452.0 614.5,472.0 588.0,500.9 570.2,516.0 568.0,516.9 565.6,516.0 561.1,510.0 553.5,484.0 545.6,464.0 530.0,440.0 516.0,424.6 512.8,422.0 478.0,409.9 472.0,409.7 442.0,412.1 414.0,418.5 410.0,420.4 382.0,441.4 364.0,448.5 344.0,457.6 340.0,458.8 320.0,460.4 314.0,460.3 296.0,455.0 290.2,452.0 258.9,422.0 244.0,404.4 203.2,364.0 188.7,344.0 166.5,310.0 154.5,290.0 136.7,266.0 132.0,249.4 130.0,245.3Z"/>
<path fill="rgb(125,125,125)" fill-rule="evenodd" d="M130.0,180.0 1270.0,180.0 1270.0,780.0 1134.5,780.0 1082.0,775.3 1079.0,774.0 1078.0,772.0 1073.7,746.0 1070.7,732.0 1058.0,694.6 1038.0,629.2 1008.0,551.0 986.0,513.5 962.0,479.0 930.0,434.6 896.4,392.0 875.1,354.0 870.9,314.0 869.3,308.0 853.9,288.0 849.9,284.0 826.0,278.2 820.0,278.5 810.0,282.0 802.0,285.9 784.0,301.6 780.0,303.1 756.0,308.5 739.0,316.0 734.0,318.9 717.9,344.0 716.0,348.0 709.3,372.0 701.1,390.0 697.4,396.0 674.0,422.4 668.0,427.5 649.7,440.0 635.1,452.0 613.3,472.0 587.7,500.0 576.0,510.0 570.0,514.5 568.0,515.2 566.0,514.2 564.1,512.0 562.2,508.0 555.7,484.0 548.3,462.0 534.0,437.4 520.0,420.3 516.0,416.7 499.4,410.0 480.0,403.5 474.0,403.2 442.0,406.8 412.0,414.7 408.0,416.8 380.0,438.8 362.0,446.1 340.0,456.8 316.0,459.0 297.4,454.0 292.0,451.6 262.2,422.0 246.0,402.1 221.0,376.0 208.8,362.0 193.3,342.0 156.5,288.0 138.8,266.0 132.3,248.0 130.0,244.2Z"/>
<path fill="rgb(121,121,121)" fill-rule="evenodd" d="M130.0,180.0 1270.0,180.0 1270.0,780.0 1169.7,780.0 1100.0,759.5 1096.0,757.9 1094.3,756.0 1091.3,734.0 1090.2,730.0 1070.0,690.6 1056.0,661.1 1041.0,624.0 1032.6,606.0 1010.0,547.7 988.2,508.0 904.9,388.0 886.1,350.0 881.9,310.0 880.1,304.0 862.4,286.0 854.0,278.8 850.0,277.4 827.3,274.0 820.0,274.2 810.0,277.9 802.0,281.9 786.0,296.9 782.0,299.6 755.0,306.0 734.0,316.4 730.0,321.1 716.0,344.4 714.0,349.9 708.6,372.0 701.5,388.0 697.0,396.0 681.5,414.0 671.8,424.0 668.0,427.2 651.9,438.0 634.3,452.0 618.2,466.0 605.6,478.0 585.6,500.0 572.0,510.4 570.0,511.4 568.0,511.3 565.2,508.0 562.2,500.0 550.9,460.0 544.2,446.0 538.0,435.4 522.0,415.4 518.0,412.0 502.0,404.2 482.0,398.6 474.0,398.1 442.0,402.5 410.0,411.9 406.0,414.1 378.0,435.8 362.0,442.9 340.0,454.9 316.0,457.3 296.5,452.0 292.0,449.6 267.9,426.0 248.0,402.2 225.3,378.0 213.2,364.0 194.8,340.0 158.9,288.0 139.4,264.0 132.0,246.0 130.0,243.6Z"/>
<path fill="rgb(117,117,117)" fill-rule="evenodd" d="M130.0,180.0 1270.0,180.0 1270.0,780.0 1181.4,780.0 1118.0,742.7 1112.0,738.2 1110.9,734.0 1109.9,722.0 1108.7,718.0 1082.0,682.5 1062.0,654.5 1036.8,608.0 1019.6,566.0 1012.4,546.0 993.8,508.0 950.8,444.0 924.4,402.0 912.6,382.0 897.1,346.0 892.7,306.0 889.7,296.0 885.6,292.0 860.0,274.2 854.0,272.0 826.0,269.8 818.0,271.0 808.0,275.0 802.0,278.4 798.0,281.7 786.4,294.0 782.0,297.4 754.0,304.0 734.0,314.6 730.0,318.9 714.2,346.0 707.4,374.0 699.1,392.0 695.0,398.0 680.0,415.3 670.0,425.3 648.9,440.0 604.3,476.0 584.3,498.0 580.0,501.7 574.0,505.5 570.0,506.6 568.0,505.4 564.2,498.0 553.7,458.0 548.8,446.0 542.3,434.0 526.0,413.0 522.0,408.7 506.0,398.8 500.0,396.9 482.0,393.3 472.0,393.4 442.0,398.2 412.0,407.7 404.0,411.6 376.0,432.7 360.0,440.7 342.0,452.0 338.0,453.6 320.0,455.3 314.0,455.2 296.4,450.0 292.0,447.6 269.5,426.0 248.0,400.7 226.9,378.0 216.8,366.0 197.1,340.0 160.0,286.6 140.0,262.1 132.4,246.0 130.0,243.1Z"/>
<path fill="rgb(113,113,113)" fill-rule="evenodd" d="M130.0,180.0 1270.0,180.0 1270.0,780.0 1186.6,780.0 1132.0,719.6 1130.2,716.0 1129.2,706.0 1127.9,702.0 1106.0,683.6 1072.0,652.1 1064.0,643.5 1038.2,604.0 1021.6,564.0 1014.8,544.0 998.0,505.7 969.9,464.0 952.7,436.0 933.6,402.0 921.4,378.0 908.1,342.0 903.7,304.0 900.5,290.0 898.0,285.1 889.4,280.0 868.0,269.5 858.0,266.4 846.0,265.4 826.0,265.8 820.0,266.6 808.0,271.2 802.0,274.5 796.0,280.1 785.8,292.0 782.0,295.2 778.0,296.7 752.0,302.5 734.0,313.0 730.0,317.1 714.0,344.6 707.6,372.0 698.8,392.0 696.2,396.0 674.0,421.4 668.0,426.7 653.8,436.0 640.0,446.9 602.4,474.0 580.4,498.0 576.0,501.1 572.0,502.4 570.0,501.8 568.4,500.0 566.0,495.5 560.9,476.0 556.6,456.0 552.4,444.0 546.2,432.0 526.0,405.7 520.0,400.5 510.0,393.6 504.0,391.1 482.0,388.0 470.0,388.7 442.0,393.7 414.0,403.4 403.6,408.0 374.0,429.6 358.0,438.5 341.6,450.0 338.0,451.9 324.0,453.2 314.0,453.3 298.0,448.6 292.0,445.6 270.0,425.0 252.1,404.0 224.7,374.0 200.6,342.0 178.0,308.4 161.6,286.0 142.0,262.8 135.3,252.0 134.0,248.0 130.0,242.7Z"/>
<path fill="rgb(110,110,110)" fill-rule="evenodd" d="M130.0,180.0 1270.0,180.0 1270.0,780.0 1189.9,780.0 1186.5,774.0 1164.9,726.0 1151.6,694.0 1149.2,682.0 1148.1,680.0 1146.0,678.8 1128.0,672.9 1118.0,668.4 1072.0,640.1 1065.2,634.0 1042.9,606.0 1039.6,600.0 1024.0,563.2 1018.0,544.3 1002.5,504.0 974.6,462.0 958.3,434.0 940.5,398.0 930.3,374.0 919.4,340.0 914.8,302.0 912.0,286.7 908.6,276.0 906.0,273.4 880.0,264.3 862.0,260.3 848.0,259.6 822.0,262.4 814.0,264.8 802.0,270.3 796.0,276.0 785.2,290.0 782.0,293.1 778.0,294.9 752.0,300.3 736.0,310.3 730.0,315.6 713.7,344.0 712.0,348.4 707.2,372.0 698.4,392.0 695.9,396.0 680.6,414.0 668.0,426.4 653.5,436.0 636.0,449.3 608.0,467.8 600.5,472.0 578.7,496.0 576.0,497.9 572.0,498.5 569.2,496.0 567.4,492.0 563.4,476.0 559.1,452.0 556.0,442.0 550.1,430.0 532.0,405.6 526.0,398.5 512.0,386.8 508.0,384.9 484.0,382.9 474.0,383.2 446.0,388.1 436.0,391.2 410.0,401.4 400.7,406.0 372.7,426.0 356.0,436.4 340.0,448.9 336.0,450.9 314.0,451.5 298.0,446.8 290.0,442.5 270.2,424.0 227.4,376.0 216.5,362.0 201.0,340.0 178.0,305.0 161.8,284.0 142.0,261.0 136.8,254.0 134.0,247.3 130.0,242.2Z"/>
<path fill="rgb(106,106,106)" fill-rule="evenodd" d="M130.0,180.0 1270.0,180.0 1270.0,780.0 1192.1,780.0 1190.4,776.0 1184.6,740.0 1179.3,698.0 1172.0,668.0 1171.1,660.0 1170.0,657.1 1166.0,654.3 1162.0,653.4 1126.0,650.9 1120.0,649.9 1076.0,633.1 1072.0,631.1 1068.0,627.9 1044.0,602.1 1026.3,562.0 1006.9,502.0 994.6,484.0 976.9,456.0 962.8,430.0 948.1,396.0 937.2,364.0 931.6,342.0 929.3,330.0 923.6,284.0 919.3,266.0 918.0,263.5 916.0,262.0 886.0,255.7 866.0,253.8 848.0,253.8 824.0,258.1 811.5,262.0 799.6,268.0 796.0,271.9 783.5,290.0 780.0,292.8 754.0,298.1 748.0,300.5 732.0,312.1 728.0,317.6 712.2,346.0 706.9,372.0 699.0,390.0 695.6,396.0 680.3,414.0 668.0,426.1 653.1,436.0 638.0,447.6 606.0,467.3 600.0,469.2 578.0,493.5 574.0,495.6 572.0,495.1 570.9,494.0 568.9,490.0 565.6,476.0 563.3,456.0 560.9,444.0 554.0,428.2 528.0,392.9 514.0,379.6 510.0,378.1 486.0,377.7 472.0,378.4 444.0,384.0 438.0,386.0 409.7,398.0 391.4,408.0 355.0,434.0 340.0,447.2 336.0,449.6 316.0,450.4 298.0,445.4 292.0,442.8 271.1,424.0 226.6,374.0 218.9,364.0 201.0,338.0 180.0,305.2 150.1,268.0 137.3,254.0 134.0,246.6 130.0,241.8Z"/>
<path fill="rgb(102,102,102)" fill-rule="evenodd" d="M130.0,180.0 1270.0,180.0 1270.0,780.0 1193.8,780.0 1192.5,778.0 1192.8,760.0 1197.5,700.0 1197.4,690.0 1195.3,654.0 1193.8,650.0 1186.0,637.0 1182.0,634.8 1164.0,629.7 1120.0,634.8 1076.0,625.5 1070.0,621.9 1050.0,604.0 1046.4,600.0 1028.3,560.0 1014.0,510.6 1010.2,500.0 998.7,484.0 980.3,454.0 967.2,428.0 956.9,400.0 952.7,386.0 944.9,354.0 940.4,328.0 935.4,284.0 931.4,260.0 930.0,256.0 923.0,250.0 916.0,248.7 884.0,247.3 850.0,249.0 843.1,250.0 815.4,258.0 798.8,266.0 794.0,272.0 783.7,288.0 780.0,291.6 750.3,298.0 746.9,300.0 732.0,311.4 728.0,316.6 712.0,345.3 706.5,372.0 698.7,390.0 695.2,396.0 680.0,414.0 667.8,426.0 652.7,436.0 638.0,447.2 608.0,465.4 599.1,468.0 578.0,491.4 576.0,493.0 574.0,493.5 571.5,492.0 569.2,486.0 566.9,476.0 564.0,446.2 562.0,438.2 556.0,425.4 544.5,410.0 532.0,391.2 518.0,375.0 514.0,372.0 474.0,374.5 464.0,376.0 439.7,382.0 409.2,396.0 390.4,406.0 355.0,432.0 339.8,446.0 336.0,448.7 330.0,449.4 314.0,449.2 294.0,443.0 290.0,440.5 272.0,424.0 228.9,376.0 216.9,360.0 200.7,336.0 181.9,306.0 152.0,269.2 138.0,254.3 134.0,246.0 130.0,241.4Z"/>
<path fill="rgb(99,99,99)" fill-rule="evenodd" d="M130.0,180.0 1270.0,180.0 1270.0,780.0 1195.4,780.0 1193.8,778.0 1193.5,774.0 1197.1,740.0 1204.0,700.0 1206.8,652.0 1206.2,648.0 1196.2,626.0 1194.2,624.0 1174.0,617.2 1164.0,614.7 1148.0,617.0 1120.0,623.2 1078.0,618.7 1075.9,618.0 1070.0,613.9 1050.0,597.7 1031.1,560.0 1018.0,516.1 1012.0,500.0 999.2,482.0 983.1,456.0 969.0,428.0 957.1,394.0 948.7,358.0 942.7,320.0 938.0,274.5 934.5,254.0 932.9,252.0 925.1,246.0 920.0,245.1 884.0,244.9 848.0,247.5 837.7,250.0 812.0,258.0 798.0,265.3 794.0,270.4 782.9,288.0 780.0,290.8 755.4,296.0 748.0,298.3 732.0,310.6 728.0,315.7 712.0,344.2 706.2,372.0 697.4,392.0 694.9,396.0 680.0,413.7 667.4,426.0 652.3,436.0 638.0,446.9 608.0,464.7 600.0,466.5 598.0,467.7 576.0,491.7 574.0,492.1 571.5,490.0 568.3,478.0 566.0,451.9 564.0,440.0 558.0,426.1 544.8,408.0 532.0,388.6 518.0,371.9 514.8,370.0 466.1,374.0 441.3,380.0 406.8,396.0 388.3,406.0 355.9,430.0 338.0,446.6 334.0,448.5 316.0,448.7 302.0,445.0 292.0,441.2 272.0,423.4 229.5,376.0 214.8,356.0 180.0,302.2 152.0,268.2 138.2,254.0 134.3,246.0 130.0,241.0Z"/>
<path fill="rgb(95,95,95)" fill-rule="evenodd" d="M130.0,180.0 1270.0,180.0 1270.0,780.0 1196.8,780.0 1194.8,778.0 1194.7,772.0 1198.7,738.0 1206.0,695.1 1209.0,652.0 1208.0,645.9 1200.0,625.3 1198.0,621.6 1196.0,619.6 1168.0,605.2 1160.0,603.4 1152.0,603.5 1120.0,612.4 1082.0,610.6 1078.0,609.4 1068.0,603.3 1057.5,596.0 1053.7,592.0 1033.3,558.0 1020.0,517.3 1012.0,498.2 1001.6,484.0 985.4,458.0 969.3,426.0 957.1,390.0 949.5,356.0 943.4,316.0 940.0,281.3 936.0,254.4 932.3,250.0 924.0,244.2 884.0,243.8 852.0,246.1 841.3,248.0 815.4,256.0 798.5,264.0 796.0,266.2 784.9,284.0 780.0,290.0 776.0,291.5 752.1,296.0 747.3,298.0 732.0,309.9 728.0,314.9 711.7,344.0 710.0,349.8 706.0,371.5 697.1,392.0 694.6,396.0 680.0,413.3 667.0,426.0 652.0,436.0 638.0,446.6 606.0,465.1 600.0,465.8 598.0,466.9 576.0,490.7 574.0,491.1 571.5,488.0 568.6,476.0 566.9,454.0 565.2,442.0 560.0,428.4 558.0,424.4 547.4,410.0 534.0,389.7 520.0,372.9 516.0,369.3 474.0,372.0 462.6,374.0 439.0,380.0 409.1,394.0 387.0,406.0 354.8,430.0 336.0,447.2 330.0,448.1 314.0,447.7 298.0,443.1 292.0,440.6 272.0,422.8 230.1,376.0 216.8,358.0 200.8,334.0 182.0,303.9 152.0,267.4 138.7,254.0 134.5,246.0 130.0,240.7 130.0,229.4 130.7,226.0 130.0,222.3Z"/>
<path fill="rgb(91,91,91)" fill-rule="evenodd" d="M130.0,180.0 1270.0,180.0 1270.0,780.0 1198.3,780.0 1195.7,778.0 1195.3,774.0 1199.1,742.0 1207.4,692.0 1210.6,652.0 1210.0,646.0 1202.5,622.0 1200.7,618.0 1198.0,614.6 1170.0,592.7 1166.0,590.9 1162.0,590.1 1152.0,590.0 1132.0,598.0 1118.0,601.8 1088.0,602.0 1082.0,601.3 1070.0,595.9 1060.8,590.0 1037.9,560.0 1034.7,554.0 1020.9,516.0 1014.0,500.5 1001.1,482.0 985.0,456.0 970.9,428.0 959.0,394.0 950.7,358.0 944.7,320.0 940.3,278.0 936.6,254.0 934.0,250.4 925.4,244.0 920.0,243.1 884.0,243.1 848.0,245.8 839.0,248.0 813.4,256.0 798.0,263.6 794.0,268.1 784.3,284.0 780.0,289.4 776.0,291.0 750.0,296.0 746.4,298.0 732.0,309.4 728.0,314.1 710.6,346.0 706.2,370.0 696.8,392.0 694.3,396.0 680.0,413.0 668.0,424.9 652.0,435.7 640.0,445.0 606.0,464.7 598.0,466.2 576.0,489.7 574.0,490.1 572.0,487.3 569.2,476.0 567.6,454.0 566.0,441.9 560.0,426.8 534.0,388.5 520.0,371.7 516.0,368.5 468.6,372.0 442.9,378.0 438.0,379.7 407.7,394.0 386.0,405.9 354.0,429.9 338.0,445.1 334.0,447.3 314.0,447.2 298.0,442.6 292.0,440.0 272.0,422.2 230.6,376.0 217.3,358.0 182.0,303.1 152.0,266.8 139.1,254.0 134.8,246.0 130.0,240.3 130.0,230.0 131.0,226.0 130.0,221.2Z"/>
<path fill="rgb(87,87,87)" fill-rule="evenodd" d="M130.0,180.0 1270.0,180.0 1270.0,780.0 1200.0,780.0 1196.6,778.0 1196.2,774.0 1200.8,736.0 1208.4,692.0 1212.1,648.0 1205.8,620.0 1203.7,614.0 1196.0,602.5 1180.0,584.0 1177.2,582.0 1156.0,575.8 1152.0,575.4 1131.5,586.0 1120.0,590.5 1092.0,592.7 1084.0,592.2 1074.0,589.4 1066.0,585.5 1039.0,556.0 1022.2,516.0 1014.5,500.0 1001.9,482.0 985.8,456.0 970.8,426.0 959.2,392.0 951.3,358.0 945.4,320.0 940.9,278.0 937.2,254.0 934.5,250.0 926.0,243.6 920.0,242.4 884.0,242.5 848.0,245.2 838.0,247.7 812.0,255.9 798.0,263.0 794.0,267.2 782.0,286.5 778.0,289.9 752.0,295.0 746.0,297.6 730.7,310.0 726.0,316.8 710.2,346.0 705.8,370.0 696.5,392.0 694.0,396.0 680.0,412.7 668.0,424.6 652.0,435.5 640.0,444.7 608.0,463.3 604.0,464.9 600.0,465.0 597.5,466.0 576.0,488.8 574.0,489.1 572.3,486.0 569.8,476.0 568.3,454.0 566.2,440.0 560.3,426.0 534.4,388.0 520.0,370.8 516.0,367.7 468.0,371.5 438.0,379.1 406.5,394.0 387.8,404.0 356.0,427.6 338.0,444.4 334.0,446.8 320.0,447.1 314.0,446.6 300.0,442.8 292.0,439.5 272.4,422.0 231.0,376.0 216.5,356.0 182.0,302.3 152.0,266.1 139.5,254.0 135.1,246.0 130.1,240.0 130.0,230.6 131.2,228.0 131.3,226.0 130.0,220.1Z"/>
<path fill="rgb(84,84,84)" fill-rule="evenodd" d="M130.0,180.0 1270.0,180.0 1270.0,780.0 1202.3,780.0 1197.5,778.0 1196.9,774.0 1202.5,730.0 1209.5,690.0 1213.6,648.0 1209.3,618.0 1206.7,608.0 1202.0,597.0 1188.0,573.0 1186.0,571.9 1178.0,570.3 1170.0,567.5 1154.0,558.4 1150.0,559.9 1125.7,576.0 1118.0,579.8 1092.0,583.2 1078.0,582.3 1072.0,580.8 1068.0,578.4 1044.0,556.8 1040.0,552.1 1023.6,516.0 1015.2,500.0 1002.0,481.1 986.0,455.2 971.5,426.0 959.8,392.0 952.0,358.0 945.8,318.0 942.0,282.0 937.9,254.0 935.4,250.0 926.0,242.9 920.0,241.8 884.0,241.8 848.0,244.7 838.0,247.1 812.0,255.3 796.0,263.9 782.0,285.8 778.0,289.4 752.0,294.5 746.0,297.1 730.1,310.0 726.0,316.1 710.0,345.7 704.9,372.0 696.2,392.0 680.0,412.3 668.0,424.3 640.0,444.4 608.0,462.9 604.0,464.5 600.0,464.6 596.8,466.0 576.0,487.9 574.0,488.0 572.0,482.6 570.2,474.0 568.9,454.0 566.8,440.0 561.0,426.0 535.2,388.0 520.1,370.0 516.0,367.1 468.0,370.9 438.0,378.5 406.0,393.6 386.8,404.0 368.0,417.5 354.7,428.0 337.6,444.0 334.0,446.2 316.0,446.5 300.0,442.3 292.0,439.0 272.8,422.0 231.5,376.0 216.9,356.0 182.3,302.0 152.4,266.0 139.9,254.0 135.3,246.0 130.3,240.0 130.0,231.1 131.5,228.0 131.5,226.0 130.0,219.1Z"/>
<path fill="rgb(80,80,80)" fill-rule="evenodd" d="M130.0,180.0 1270.0,180.0 1270.0,780.0 1204.8,780.0 1198.5,778.0 1197.6,776.0 1202.9,732.0 1210.3,690.0 1215.0,648.0 1212.8,616.0 1210.4,600.0 1200.0,567.3 1197.4,562.0 1194.0,560.7 1182.0,559.7 1178.0,558.4 1173.9,556.0 1168.3,550.0 1160.0,533.6 1158.0,531.6 1156.0,531.2 1154.0,532.6 1142.4,548.0 1119.9,566.0 1116.0,568.6 1112.0,570.2 1100.0,572.5 1080.0,574.2 1076.0,574.1 1072.0,573.0 1048.0,555.6 1042.0,550.0 1022.8,512.0 1014.9,498.0 1002.0,480.0 986.0,454.0 972.0,425.7 960.0,390.2 952.0,354.5 946.4,318.0 942.6,282.0 938.5,254.0 936.0,249.7 926.0,242.2 922.0,241.2 884.0,241.3 850.0,243.9 842.0,245.3 812.0,254.8 797.8,262.0 794.0,265.6 782.0,285.1 778.0,288.8 752.0,294.0 746.0,296.5 730.0,309.6 725.7,316.0 710.0,344.9 704.6,372.0 696.0,391.8 680.0,412.0 667.9,424.0 640.0,444.2 608.0,462.6 604.0,464.1 600.0,464.2 596.1,466.0 576.0,486.8 573.8,486.0 571.2,476.0 569.2,452.0 567.4,440.0 560.8,424.0 534.5,386.0 520.0,369.0 516.0,366.5 468.0,370.4 438.0,377.8 406.0,393.0 386.0,403.9 360.0,423.1 351.5,430.0 336.8,444.0 334.0,445.7 316.0,446.0 298.0,441.3 292.0,438.5 273.3,422.0 231.9,376.0 217.4,356.0 182.8,302.0 152.9,266.0 140.0,253.6 135.6,246.0 130.5,240.0 130.0,238.7 130.0,231.7 131.8,228.0 131.8,226.0 130.0,218.0Z"/>
<path fill="rgb(76,76,76)" fill-rule="evenodd" d="M130.0,180.0 1270.0,180.0 1270.0,780.0 1206.5,780.0 1200.0,778.2 1198.5,776.0 1203.7,732.0 1208.7,706.0 1211.4,688.0 1216.2,648.0 1215.0,598.0 1210.0,560.8 1207.8,550.0 1206.0,548.2 1200.0,549.2 1188.0,549.1 1184.0,548.5 1182.0,547.2 1180.0,544.0 1174.9,526.0 1164.0,513.2 1162.0,511.7 1160.0,511.2 1150.0,512.4 1145.4,514.0 1143.7,516.0 1134.0,536.0 1131.2,540.0 1112.0,558.0 1106.0,561.2 1078.0,567.0 1074.0,567.1 1070.0,565.3 1046.0,550.2 1044.0,548.2 1025.4,514.0 1016.9,500.0 1004.0,481.9 988.0,456.0 972.0,423.6 962.0,394.7 953.7,360.0 948.0,324.6 943.0,280.0 939.1,254.0 938.0,251.2 936.0,248.9 926.0,241.5 922.0,240.6 884.0,240.7 850.0,243.3 840.0,245.3 812.0,254.2 797.0,262.0 794.0,264.8 782.0,284.4 778.0,288.3 752.0,293.4 746.0,295.9 730.0,309.1 726.0,314.8 710.0,344.1 704.2,372.0 696.0,391.1 692.8,396.0 678.0,413.7 667.4,424.0 638.0,445.2 606.0,463.2 599.3,464.0 595.5,466.0 576.0,485.6 574.0,484.3 571.8,476.0 568.5,442.0 566.8,436.0 561.6,424.0 535.4,386.0 520.0,368.1 516.0,365.8 470.0,369.4 438.0,377.1 408.0,391.3 386.0,403.2 370.0,414.6 354.0,427.3 336.0,444.0 334.0,445.0 328.0,445.6 316.0,445.3 298.0,440.9 292.0,438.0 273.8,422.0 232.4,376.0 217.8,356.0 183.3,302.0 153.4,266.0 140.0,253.2 135.9,246.0 130.8,240.0 130.0,238.1 130.0,232.7 132.1,228.0 132.1,226.0 130.0,217.1Z"/>
<path fill="rgb(73,73,73)" fill-rule="evenodd" d="M130.0,180.0 1270.0,180.0 1270.0,780.0 1207.6,780.0 1201.2,778.0 1199.5,776.0 1204.0,736.0 1209.6,706.0 1217.1,648.0 1217.1,596.0 1214.0,562.2 1210.0,532.5 1208.0,530.7 1202.0,541.5 1200.0,543.1 1196.0,543.5 1188.0,542.4 1185.9,540.0 1182.0,526.4 1180.0,522.6 1164.1,506.0 1160.0,505.6 1145.3,508.0 1141.4,510.0 1136.0,518.6 1127.3,536.0 1110.0,552.9 1104.0,556.4 1080.0,562.4 1074.0,562.9 1052.0,550.7 1046.0,546.4 1025.7,512.0 1015.4,496.0 1004.0,480.4 988.0,454.4 974.0,426.4 962.0,391.9 954.0,357.6 948.0,319.6 943.4,278.0 939.7,254.0 938.0,250.1 936.0,248.0 926.0,240.7 920.0,240.0 884.0,240.1 848.0,242.8 838.0,245.2 812.0,253.5 796.0,262.1 792.7,266.0 782.0,283.7 778.0,287.7 752.0,292.8 746.0,295.2 730.0,308.6 726.0,314.1 709.8,344.0 708.5,348.0 704.0,371.7 696.0,390.4 694.0,394.0 678.0,413.3 666.8,424.0 638.0,444.9 606.0,462.9 598.0,464.0 594.8,466.0 576.0,483.5 574.0,480.4 572.6,474.0 571.0,454.0 569.0,440.0 562.7,424.0 536.6,386.0 521.1,368.0 518.0,365.6 516.0,365.0 468.0,369.0 442.0,375.1 436.0,377.3 408.0,390.6 386.0,402.4 366.0,416.8 352.0,428.3 337.3,442.0 334.0,444.4 328.0,445.0 316.0,444.7 298.0,440.5 292.7,438.0 274.0,421.7 232.9,376.0 218.0,355.6 182.4,300.0 153.9,266.0 140.0,252.7 136.2,246.0 131.0,240.0 130.2,238.0 130.0,234.0 132.4,228.0 130.0,216.1Z"/>
<path fill="rgb(69,69,69)" fill-rule="evenodd" d="M130.0,180.0 1270.0,180.0 1270.0,780.0 1208.5,780.0 1203.1,778.0 1200.6,776.0 1200.6,772.0 1205.9,730.0 1210.7,706.0 1218.1,648.0 1218.5,596.0 1214.0,549.7 1212.0,534.9 1210.0,526.9 1208.0,526.4 1206.5,528.0 1200.0,538.7 1198.0,540.1 1192.0,539.5 1190.0,538.4 1188.5,536.0 1184.5,526.0 1182.2,522.0 1174.0,514.9 1165.8,506.0 1162.0,504.1 1149.4,506.0 1142.0,508.0 1138.0,512.4 1124.7,536.0 1114.0,546.3 1108.0,551.3 1104.0,553.6 1082.0,559.1 1074.0,559.8 1053.0,548.0 1048.0,544.4 1036.0,526.6 1027.5,512.0 1006.0,481.6 988.0,452.0 974.0,423.1 964.0,394.4 956.0,361.8 950.0,326.2 944.8,282.0 940.5,254.0 938.0,248.8 928.0,240.8 922.0,239.2 884.0,239.3 846.0,242.4 838.0,244.5 812.0,252.7 796.0,261.4 793.5,264.0 782.0,283.0 778.0,287.0 750.0,292.7 746.0,294.6 730.0,308.1 724.6,316.0 709.5,344.0 708.2,348.0 704.0,370.4 695.8,390.0 692.1,396.0 678.0,412.8 666.3,424.0 639.0,444.0 606.0,462.6 600.0,463.2 596.0,464.7 578.0,479.4 576.0,479.0 574.0,474.2 571.5,450.0 569.5,438.0 563.5,422.0 557.5,412.0 536.8,384.0 522.0,367.7 518.0,364.6 516.0,364.1 468.0,368.3 446.0,373.2 436.0,376.5 406.0,390.7 384.0,402.8 364.0,417.6 350.0,429.2 336.0,442.3 332.6,444.0 316.0,444.1 300.0,440.6 293.4,438.0 274.0,421.1 233.3,376.0 218.0,355.0 183.0,300.0 154.4,266.0 140.0,252.2 136.5,246.0 131.3,240.0 130.4,238.0 130.2,234.0 132.7,228.0 130.0,215.2Z"/>
<path fill="rgb(65,65,65)" fill-rule="evenodd" d="M130.0,180.0 1270.0,180.0 1270.0,780.0 1209.1,780.0 1202.0,776.0 1201.8,772.0 1206.0,737.5 1211.7,708.0 1212.3,696.0 1217.1,664.0 1218.9,646.0 1219.5,596.0 1216.0,556.9 1212.2,530.0 1211.0,526.0 1210.0,524.4 1207.5,524.0 1204.9,526.0 1198.0,534.9 1196.0,536.0 1194.0,535.7 1192.0,534.1 1186.2,524.0 1182.6,520.0 1174.0,513.6 1164.5,504.0 1160.0,503.5 1145.4,506.0 1140.8,508.0 1135.9,514.0 1124.0,534.2 1114.0,543.9 1106.0,549.9 1102.0,551.8 1084.0,556.2 1076.0,557.2 1070.0,554.8 1050.0,542.4 1036.0,523.2 1029.5,512.0 1020.2,498.0 1006.0,478.9 990.0,452.1 976.3,424.0 964.5,390.0 956.3,356.0 950.1,318.0 945.6,280.0 941.4,254.0 939.9,250.0 938.0,247.3 930.0,240.6 926.0,238.8 922.0,238.3 884.0,238.5 850.0,241.1 840.0,242.9 810.0,252.6 796.0,260.7 793.0,264.0 782.0,282.4 778.0,286.3 774.0,287.6 752.0,291.5 746.0,293.9 738.0,300.1 730.0,307.5 724.2,316.0 709.2,344.0 707.9,348.0 703.6,370.0 695.3,390.0 692.0,395.5 678.0,412.3 666.0,423.7 638.0,444.4 606.0,462.3 596.4,464.0 582.0,473.6 578.0,474.7 576.2,472.0 575.2,468.0 571.0,438.0 566.0,421.7 560.5,410.0 537.9,382.0 520.0,364.3 516.0,362.9 468.0,367.2 438.0,374.5 408.0,388.7 386.0,400.5 366.0,414.8 336.0,441.1 332.0,443.1 326.0,443.7 316.0,443.2 300.0,440.2 294.0,437.9 274.0,420.6 233.8,376.0 218.0,354.3 183.5,300.0 154.9,266.0 140.0,251.7 136.8,246.0 131.5,240.0 130.7,238.0 130.5,234.0 133.0,228.0 130.0,214.3Z"/>
<path fill="rgb(61,61,61)" fill-rule="evenodd" d="M130.0,180.0 1270.0,180.0 1270.0,780.0 1209.8,780.0 1203.8,776.0 1203.0,774.0 1208.1,732.0 1213.2,708.0 1213.1,696.0 1218.0,664.0 1219.6,646.0 1220.5,600.0 1219.4,580.0 1216.1,550.0 1212.0,525.4 1210.0,522.7 1206.0,521.8 1204.0,522.6 1196.0,528.5 1194.0,528.2 1185.4,520.0 1174.0,512.7 1166.0,504.3 1162.0,502.6 1146.0,505.3 1140.0,507.8 1133.5,516.0 1122.0,534.1 1114.0,541.7 1102.0,549.3 1084.0,553.7 1076.0,554.4 1070.0,551.8 1051.6,540.0 1038.0,523.0 1022.0,497.0 1014.4,488.0 1008.0,478.6 991.3,450.0 978.7,424.0 967.2,392.0 958.6,358.0 952.0,319.2 946.9,280.0 941.9,252.0 938.0,245.4 932.0,239.9 924.0,237.3 888.0,237.4 846.0,240.6 838.0,242.4 812.0,250.6 798.0,258.5 794.0,261.8 783.2,280.0 778.0,285.6 774.0,286.8 752.0,290.6 748.0,292.0 738.0,299.2 728.0,309.3 708.9,344.0 703.1,370.0 694.0,391.9 676.0,413.9 666.0,423.0 660.0,426.9 654.5,432.0 638.0,444.1 606.0,462.0 598.0,462.9 586.0,468.9 580.0,470.5 578.0,468.3 572.9,438.0 569.0,422.0 563.7,408.0 543.2,384.0 531.3,372.0 522.0,363.8 516.0,361.5 466.0,366.3 444.0,371.3 436.0,374.1 406.0,388.4 384.0,400.5 366.0,413.4 336.0,439.8 332.2,442.0 326.0,442.8 316.0,442.2 300.0,439.7 294.0,437.3 274.0,420.1 235.9,378.0 218.0,353.6 181.2,296.0 155.4,266.0 140.0,251.2 137.1,246.0 131.8,240.0 130.9,238.0 130.8,234.0 133.2,228.0 130.0,213.3Z"/>
<path fill="rgb(58,58,58)" fill-rule="evenodd" d="M130.0,180.0 1270.0,180.0 1270.0,780.0 1210.4,780.0 1207.4,778.0 1204.5,774.0 1209.4,732.0 1215.0,706.0 1213.8,696.0 1218.8,664.0 1220.5,642.0 1221.3,598.0 1220.2,576.0 1215.0,536.0 1212.0,523.3 1208.0,519.8 1204.0,518.7 1200.0,519.0 1196.0,521.7 1194.0,522.1 1176.0,513.4 1166.0,503.5 1162.0,502.0 1146.0,504.7 1140.0,507.1 1135.5,512.0 1122.0,531.7 1118.0,536.0 1112.0,541.1 1104.0,545.8 1100.0,547.5 1084.0,551.3 1076.0,551.6 1068.9,548.0 1053.6,538.0 1038.1,520.0 1023.8,496.0 1016.6,488.0 1011.2,480.0 993.7,450.0 981.1,424.0 969.5,392.0 961.4,362.0 954.6,324.0 948.3,280.0 943.1,252.0 940.0,245.5 936.0,240.4 934.0,238.9 926.0,236.2 884.0,236.3 846.0,239.4 838.0,241.1 812.0,249.3 800.0,256.3 794.0,260.9 782.8,280.0 780.0,283.3 776.0,285.6 754.0,289.2 748.0,290.9 738.0,298.2 728.0,308.7 722.3,318.0 708.6,344.0 702.0,371.8 694.0,390.9 692.0,394.2 676.0,413.3 666.4,422.0 660.0,426.3 654.1,432.0 634.1,446.0 604.9,462.0 598.0,462.6 588.0,466.3 582.0,466.9 580.0,465.2 579.0,462.0 571.4,420.0 567.2,406.0 545.0,382.0 530.1,368.0 522.0,361.8 516.0,359.8 468.0,364.6 444.0,369.8 436.0,372.5 406.0,386.9 384.0,399.0 366.0,411.8 344.0,432.1 332.0,440.7 326.0,441.8 318.0,441.4 310.0,439.8 300.0,439.2 294.0,436.7 274.5,420.0 236.0,377.4 220.0,355.9 204.0,331.5 187.4,304.0 180.4,294.0 154.1,264.0 140.0,250.6 135.9,244.0 132.0,240.0 131.2,238.0 131.0,234.0 133.5,228.0 130.0,212.3Z"/>
<path fill="rgb(54,54,54)" fill-rule="evenodd" d="M130.0,180.0 1270.0,180.0 1270.0,780.0 1211.0,780.0 1208.2,778.0 1206.0,774.0 1206.1,768.0 1210.8,732.0 1216.6,706.0 1214.6,696.0 1220.7,654.0 1222.1,616.0 1222.0,596.0 1220.8,572.0 1215.5,534.0 1213.9,526.0 1212.0,521.6 1208.0,517.4 1202.0,513.9 1200.0,513.7 1196.0,516.5 1192.0,517.4 1178.0,513.6 1174.0,511.0 1166.0,502.8 1162.0,501.3 1146.0,504.1 1140.0,506.4 1133.0,514.0 1121.4,530.0 1116.0,535.8 1110.0,540.2 1100.0,545.0 1084.0,548.8 1080.0,549.3 1076.0,548.8 1058.1,538.0 1054.0,534.5 1040.0,519.6 1025.2,494.0 1018.0,486.8 1013.4,480.0 995.1,448.0 982.7,422.0 971.7,392.0 963.4,362.0 956.8,326.0 949.9,280.0 944.4,252.0 942.0,245.9 936.0,237.7 928.0,235.1 918.0,234.7 884.0,235.1 847.7,238.0 837.0,240.0 812.0,247.9 808.0,249.8 794.0,260.0 782.4,280.0 780.0,282.7 774.0,285.2 752.0,288.5 748.0,289.9 736.0,298.9 728.0,308.2 722.0,317.9 708.3,344.0 702.0,370.0 693.9,390.0 691.6,394.0 676.0,412.7 666.0,421.5 658.0,427.1 653.5,432.0 637.0,444.0 604.0,462.0 598.0,462.2 592.0,464.0 586.0,464.4 584.0,464.0 582.0,462.4 580.5,458.0 577.2,442.0 572.4,408.0 570.8,404.0 546.8,380.0 531.0,366.0 522.1,360.0 516.0,358.2 468.0,363.1 444.0,368.3 436.0,371.0 406.0,385.4 383.1,398.0 366.0,410.1 344.0,431.0 334.0,438.1 330.0,439.9 324.0,440.7 310.0,438.7 302.0,438.9 298.0,438.1 294.0,436.1 275.2,420.0 236.0,376.8 218.0,352.1 181.3,294.0 156.7,266.0 141.8,252.0 136.2,244.0 132.0,239.4 131.3,234.0 133.8,228.0 130.0,211.4Z"/>
<path fill="rgb(50,50,50)" fill-rule="evenodd" d="M130.0,180.0 1270.0,180.0 1270.0,780.0 1211.6,780.0 1208.7,778.0 1207.1,774.0 1207.3,768.0 1212.4,730.0 1218.2,706.0 1218.0,702.5 1216.0,699.0 1215.4,696.0 1220.7,662.0 1222.9,616.0 1222.9,596.0 1221.8,572.0 1216.3,534.0 1214.1,524.0 1212.0,519.7 1202.0,508.7 1200.0,508.0 1192.0,513.9 1186.0,514.3 1180.0,513.3 1176.0,511.8 1166.0,502.2 1164.0,501.0 1160.0,500.9 1146.0,503.4 1142.0,504.7 1137.3,508.0 1128.6,518.0 1119.4,530.0 1112.0,537.0 1098.0,543.2 1080.0,546.7 1074.0,544.8 1060.0,535.9 1042.8,520.0 1039.7,516.0 1026.0,491.0 1020.0,486.3 1018.2,484.0 1005.1,462.0 987.6,428.0 973.3,390.0 965.0,360.0 958.6,326.0 953.2,290.0 946.2,254.0 942.6,244.0 939.1,238.0 937.2,236.0 930.0,234.0 918.0,233.4 884.0,233.9 848.0,236.9 838.0,238.4 808.0,248.3 794.0,259.1 783.2,278.0 780.0,282.0 778.0,283.3 774.0,284.4 750.0,288.0 743.3,292.0 734.0,300.1 723.8,314.0 708.0,344.0 701.4,370.0 693.4,390.0 691.0,394.0 676.0,412.0 666.0,420.7 658.0,426.1 653.0,432.0 636.4,444.0 606.0,460.7 590.0,463.0 586.5,462.0 584.0,460.0 582.0,454.6 578.9,440.0 576.1,404.0 548.5,378.0 532.0,364.2 522.0,358.2 516.0,356.5 468.0,361.7 439.5,368.0 405.6,384.0 383.8,396.0 364.0,410.0 344.0,430.0 332.0,437.8 328.0,439.3 324.0,439.6 310.0,437.6 300.0,438.1 295.0,436.0 282.3,426.0 276.0,420.2 248.0,390.0 236.0,376.1 216.0,348.2 182.0,293.7 163.1,272.0 153.5,262.0 142.0,251.6 136.6,244.0 132.0,238.9 131.5,234.0 134.1,228.0 130.0,210.4Z"/>
<path fill="rgb(46,46,46)" fill-rule="evenodd" d="M130.0,180.0 1270.0,180.0 1270.0,780.0 1212.3,780.0 1209.3,778.0 1208.4,776.0 1208.3,768.0 1213.2,732.0 1220.0,704.0 1219.9,702.0 1216.9,698.0 1216.4,694.0 1221.6,662.0 1223.7,614.0 1222.6,570.0 1215.5,526.0 1214.0,521.4 1210.0,514.0 1202.0,502.2 1200.0,501.3 1198.0,502.6 1191.9,510.0 1188.8,512.0 1186.0,512.6 1180.0,512.3 1176.0,510.9 1166.8,502.0 1164.0,500.4 1160.0,500.3 1146.0,502.8 1140.0,505.1 1136.5,508.0 1128.9,516.0 1118.0,529.3 1112.0,535.0 1098.0,540.7 1082.0,544.1 1076.0,542.9 1062.1,534.0 1044.0,518.6 1040.5,514.0 1032.8,500.0 1028.0,489.3 1022.0,485.5 1020.0,483.3 1006.3,460.0 989.1,426.0 975.0,388.0 966.9,360.0 960.5,326.0 954.9,290.0 947.5,254.0 944.0,243.4 940.3,236.0 938.1,234.0 924.0,232.3 886.0,232.8 844.0,236.2 835.2,238.0 810.2,246.0 806.7,248.0 794.0,258.2 782.8,278.0 780.0,281.5 776.0,283.3 750.0,287.1 742.1,292.0 734.0,299.1 723.5,314.0 707.7,344.0 701.5,368.0 692.9,390.0 690.4,394.0 675.4,412.0 664.0,421.5 656.9,426.0 652.4,432.0 635.7,444.0 606.0,460.3 592.0,462.0 588.0,460.3 586.0,458.0 584.0,453.6 581.1,442.0 579.7,414.0 581.5,404.0 580.4,402.0 550.3,376.0 535.1,364.0 525.1,358.0 516.0,355.0 470.4,360.0 440.0,366.4 407.0,382.0 381.7,396.0 364.0,408.6 344.0,429.2 330.0,437.5 324.0,438.7 310.0,436.6 300.0,437.4 296.2,436.0 283.2,426.0 276.6,420.0 254.0,396.0 238.0,377.6 218.0,350.3 206.0,331.9 181.8,292.0 164.1,272.0 142.0,250.9 132.0,238.3 131.8,234.0 134.1,230.0 134.4,228.0 130.0,209.4Z"/>
<path fill="rgb(43,43,43)" fill-rule="evenodd" d="M130.0,180.0 1270.0,180.0 1270.0,780.0 1213.3,780.0 1209.8,778.0 1208.9,776.0 1209.1,768.0 1214.5,730.0 1221.3,702.0 1220.9,700.0 1218.0,697.5 1217.3,694.0 1222.3,664.0 1223.2,654.0 1224.6,616.0 1224.2,578.0 1220.7,550.0 1215.8,524.0 1208.0,505.5 1202.0,493.8 1200.0,492.7 1198.0,494.3 1189.8,508.0 1186.0,510.7 1180.0,511.1 1176.0,510.0 1167.7,502.0 1164.0,499.6 1160.0,499.5 1142.0,503.3 1137.7,506.0 1129.3,514.0 1116.0,529.1 1110.4,534.0 1098.0,538.3 1084.0,541.4 1080.0,541.5 1074.0,538.5 1062.0,530.5 1044.1,516.0 1033.9,498.0 1030.0,487.5 1028.0,485.2 1024.0,484.3 1021.4,482.0 1007.5,458.0 991.6,426.0 980.0,396.0 969.0,360.0 962.0,324.0 956.6,290.0 949.0,254.0 942.0,235.0 940.0,233.0 936.3,232.0 926.0,231.5 886.0,231.9 842.0,235.6 832.1,238.0 808.0,246.0 793.5,258.0 782.4,278.0 780.0,281.0 774.0,283.1 750.0,286.3 743.8,290.0 734.0,298.2 723.1,314.0 707.4,344.0 701.0,368.0 692.3,390.0 689.8,394.0 674.8,412.0 664.0,420.8 655.7,426.0 651.8,432.0 638.2,442.0 605.7,460.0 594.0,460.9 590.5,460.0 587.5,456.0 585.2,450.0 582.8,440.0 582.9,414.0 586.9,404.0 586.5,402.0 554.2,376.0 535.2,362.0 523.4,356.0 516.0,353.8 464.5,360.0 438.1,366.0 404.8,382.0 380.1,396.0 363.3,408.0 344.0,428.3 332.0,435.6 328.0,437.4 324.0,437.9 310.0,435.7 302.0,436.7 297.8,436.0 284.1,426.0 277.5,420.0 254.0,395.2 238.0,376.6 224.0,357.9 212.0,340.0 182.9,292.0 165.2,272.0 142.0,250.2 132.3,238.0 132.0,234.0 134.5,230.0 134.8,228.0 130.0,208.4Z"/>
<path fill="rgb(39,39,39)" fill-rule="evenodd" d="M130.0,180.0 1270.0,180.0 1270.0,780.0 1214.3,780.0 1210.3,778.0 1209.5,776.0 1209.7,770.0 1214.8,732.0 1222.3,702.0 1222.0,698.9 1218.8,696.0 1218.3,694.0 1223.1,666.0 1223.9,656.0 1225.5,616.0 1225.2,576.0 1221.1,546.0 1217.2,526.0 1202.0,482.6 1200.0,481.4 1198.0,484.2 1188.0,506.0 1186.0,508.4 1182.0,509.6 1178.0,509.5 1175.3,508.0 1168.0,501.0 1164.0,498.6 1160.0,498.6 1144.0,501.7 1140.0,503.3 1127.4,514.0 1110.0,532.0 1104.5,534.0 1087.6,538.0 1082.0,538.9 1078.0,537.6 1063.5,528.0 1046.0,514.9 1043.8,512.0 1036.0,497.6 1031.4,484.0 1030.0,482.3 1025.3,482.0 1022.6,480.0 1009.9,458.0 994.0,425.9 982.0,395.0 971.1,360.0 964.0,323.9 958.5,290.0 951.1,256.0 946.8,242.0 943.6,234.0 941.8,232.0 926.0,230.8 886.0,231.3 844.0,234.7 836.3,236.0 811.0,244.0 806.9,246.0 792.9,258.0 782.0,277.9 780.0,280.4 774.0,282.5 749.0,286.0 740.2,292.0 734.0,297.4 721.5,316.0 707.1,344.0 701.2,366.0 691.8,390.0 689.3,394.0 674.1,412.0 662.0,421.6 654.5,426.0 652.8,428.0 652.5,430.0 650.9,432.0 637.1,442.0 604.0,459.8 596.0,459.9 592.0,458.7 590.0,456.1 587.6,450.0 585.0,440.0 585.7,416.0 587.1,412.0 592.1,404.0 592.0,402.0 534.2,360.0 520.6,354.0 516.0,353.0 471.8,358.0 440.0,364.5 407.2,380.0 381.8,394.0 362.1,408.0 343.5,428.0 332.0,434.8 328.0,436.6 324.0,437.3 310.0,435.1 300.0,435.9 296.0,434.0 282.9,424.0 278.0,419.4 254.0,394.3 240.0,378.0 218.0,347.9 204.0,326.0 182.7,290.0 166.5,272.0 142.0,249.2 134.0,240.0 132.4,236.0 132.7,234.0 134.9,230.0 135.1,228.0 130.0,207.4Z"/>
<path fill="rgb(35,35,35)" fill-rule="evenodd" d="M130.0,180.0 1270.0,180.0 1270.0,780.0 1216.1,780.0 1212.0,778.9 1210.7,778.0 1210.0,776.0 1210.7,766.0 1215.5,732.0 1223.3,700.0 1222.9,698.0 1220.0,695.0 1219.7,692.0 1224.2,666.0 1225.1,656.0 1226.6,616.0 1226.3,576.0 1222.9,550.0 1218.7,528.0 1206.0,485.9 1202.2,478.0 1200.0,475.9 1198.0,476.3 1183.8,506.0 1180.0,507.2 1178.0,507.2 1176.0,506.2 1168.0,499.2 1164.0,497.1 1160.0,497.3 1142.0,500.9 1138.0,503.0 1126.2,512.0 1110.0,527.2 1103.5,530.0 1082.0,533.6 1078.0,531.7 1048.1,512.0 1038.0,495.0 1032.6,480.0 1030.0,478.7 1026.0,478.9 1024.0,477.6 1012.0,456.6 996.0,424.0 984.0,392.7 973.7,360.0 966.0,321.1 960.9,290.0 953.2,256.0 948.9,242.0 944.3,232.0 940.0,230.7 928.0,230.1 886.0,230.7 844.0,234.1 834.1,236.0 810.0,243.7 806.0,245.8 792.3,258.0 782.0,277.2 779.9,280.0 776.0,281.7 752.0,284.7 748.0,285.8 734.0,296.6 721.1,316.0 706.8,344.0 700.7,366.0 691.4,390.0 675.5,410.0 662.0,421.0 653.5,426.0 651.5,428.0 650.0,432.0 638.7,440.0 604.3,458.0 599.6,458.0 596.0,456.9 594.0,455.3 590.0,444.5 588.5,438.0 589.2,416.0 590.9,412.0 596.6,404.0 592.4,400.0 535.6,360.0 522.5,354.0 516.0,352.1 468.0,357.9 439.3,364.0 405.7,380.0 380.8,394.0 362.0,407.4 342.8,428.0 330.0,435.1 324.0,436.7 310.0,434.4 300.0,434.7 297.9,434.0 281.9,422.0 262.0,401.7 248.0,386.1 232.0,366.0 218.0,346.2 202.0,320.9 184.2,290.0 168.0,272.0 142.0,248.1 134.0,239.0 133.0,236.0 135.4,230.0 135.4,228.0 130.0,206.4Z"/>
<path fill="rgb(32,32,32)" fill-rule="evenodd" d="M130.0,180.0 1270.0,180.0 1270.0,780.0 1218.4,780.0 1212.0,778.6 1210.5,776.0 1211.2,766.0 1216.4,730.0 1224.1,700.0 1224.0,697.8 1221.4,694.0 1221.1,692.0 1225.6,666.0 1227.9,618.0 1227.9,586.0 1227.1,570.0 1221.2,534.0 1212.0,500.5 1208.0,487.8 1204.0,479.0 1200.0,474.2 1198.0,473.6 1196.0,474.7 1184.0,494.6 1180.0,499.9 1178.0,500.5 1176.0,499.9 1168.0,495.5 1164.0,494.4 1142.0,498.3 1125.3,506.0 1106.0,518.3 1100.0,520.5 1084.0,522.0 1064.0,512.2 1053.2,506.0 1042.6,492.0 1034.4,478.0 1032.0,476.1 1026.0,474.2 1024.0,471.5 1014.2,454.0 998.8,422.0 986.7,390.0 977.8,362.0 970.3,326.0 964.2,290.0 957.4,260.0 952.6,244.0 946.7,232.0 942.0,230.3 938.0,229.8 886.0,230.1 842.0,233.7 810.0,243.2 806.0,245.2 792.0,257.6 782.0,276.5 779.1,280.0 776.0,281.2 750.0,284.5 746.0,286.5 733.9,296.0 720.7,316.0 707.3,342.0 705.1,348.0 700.3,366.0 689.7,392.0 676.0,408.8 672.0,412.7 662.0,420.5 652.5,426.0 650.1,428.0 648.3,432.0 645.9,434.0 636.0,439.3 630.0,441.4 606.0,448.0 604.0,448.1 602.0,447.1 599.0,442.0 596.7,436.0 593.7,420.0 593.8,416.0 596.0,410.4 598.0,409.2 606.0,410.9 606.6,410.0 594.0,400.0 536.8,360.0 524.1,354.0 516.0,351.6 468.0,357.4 437.7,364.0 404.5,380.0 380.0,393.8 362.0,406.6 342.0,428.0 330.0,434.5 324.0,436.1 310.0,433.8 300.0,433.5 298.0,432.5 283.7,422.0 262.0,400.1 240.0,374.5 222.0,349.9 204.0,321.8 187.3,292.0 184.4,288.0 168.0,270.0 142.0,246.5 134.0,238.0 134.0,234.1 135.2,232.0 135.7,228.0 130.0,205.3Z"/>
<path fill="rgb(28,28,28)" fill-rule="evenodd" d="M130.0,180.0 1270.0,180.0 1270.0,780.0 1220.5,780.0 1212.0,778.3 1210.9,776.0 1216.9,730.0 1224.7,700.0 1224.2,696.0 1222.6,692.0 1226.8,668.0 1227.7,658.0 1229.3,618.0 1229.3,588.0 1228.0,567.3 1225.6,550.0 1222.0,532.1 1216.0,509.5 1208.4,486.0 1206.0,480.9 1202.9,476.0 1200.0,473.2 1196.0,471.0 1194.0,471.1 1193.0,474.0 1184.0,486.6 1178.0,493.0 1176.0,493.4 1168.0,491.2 1164.0,491.0 1140.0,495.1 1119.6,502.0 1100.0,510.9 1096.0,511.7 1088.0,512.1 1084.0,511.3 1061.1,502.0 1054.0,496.8 1043.7,484.0 1034.0,474.7 1028.0,471.0 1026.0,468.6 1016.6,452.0 1001.4,420.0 990.9,392.0 981.3,362.0 973.8,326.0 968.0,292.0 960.8,260.0 954.5,240.0 949.6,232.0 944.1,230.0 940.0,229.4 916.0,229.1 884.0,229.6 842.0,233.2 832.0,235.6 810.0,242.6 806.0,244.6 792.0,256.9 781.8,276.0 778.3,280.0 750.0,284.0 746.0,285.9 733.3,296.0 721.4,314.0 705.3,346.0 700.0,365.4 692.0,386.3 689.2,392.0 676.2,408.0 672.0,412.2 661.9,420.0 646.0,429.4 644.0,429.3 642.0,428.0 640.0,427.7 636.0,428.0 640.0,432.0 636.2,434.0 622.0,437.0 612.0,437.6 608.0,437.1 606.0,435.0 604.0,430.0 602.0,421.4 604.0,419.6 616.0,419.6 617.9,418.0 614.6,414.0 537.9,360.0 530.0,355.9 520.0,351.8 516.0,351.0 468.0,356.9 442.6,362.0 436.5,364.0 404.0,379.7 380.0,393.3 361.9,406.0 342.0,427.4 328.0,434.8 324.0,435.6 302.0,432.5 298.0,430.9 284.0,420.3 263.8,400.0 242.0,374.6 222.6,348.0 204.7,320.0 186.5,288.0 170.0,269.8 142.0,244.8 135.4,238.0 134.8,236.0 136.0,231.6 136.0,228.0 130.0,204.2Z"/>
<path fill="rgb(24,24,24)" fill-rule="evenodd" d="M130.0,180.0 1270.0,180.0 1270.0,780.0 1222.1,780.0 1214.0,778.7 1212.2,778.0 1211.4,776.0 1217.4,730.0 1225.3,700.0 1224.1,690.0 1228.3,668.0 1230.4,628.0 1230.7,588.0 1229.9,574.0 1228.0,558.1 1224.0,535.9 1218.0,512.3 1210.0,488.2 1206.3,480.0 1202.0,473.9 1196.0,468.6 1194.0,467.7 1188.6,476.0 1180.0,485.6 1176.0,488.1 1164.0,487.9 1138.0,492.1 1116.0,497.3 1098.0,502.8 1090.0,503.6 1086.0,503.0 1068.0,497.3 1060.0,493.6 1054.0,489.2 1046.3,480.0 1038.0,475.8 1030.0,468.9 1022.8,458.0 1007.7,428.0 992.6,388.0 983.4,358.0 976.8,326.0 971.0,292.0 963.7,260.0 956.6,236.0 952.4,232.0 947.2,230.0 938.0,228.7 878.0,229.6 838.0,233.3 812.0,241.4 806.0,244.0 792.0,256.2 780.2,278.0 778.0,279.7 750.0,283.5 746.0,285.3 732.7,296.0 721.0,314.0 704.9,346.0 700.0,364.0 689.9,390.0 676.0,407.5 672.0,411.6 661.1,420.0 648.0,427.3 644.0,427.1 634.0,424.6 628.0,424.7 626.0,423.6 621.2,418.0 613.8,412.0 538.0,359.4 520.0,351.3 516.0,350.5 468.0,356.3 442.0,361.6 436.0,363.6 404.0,379.1 380.0,392.7 361.1,406.0 342.0,426.8 328.0,434.3 324.0,435.1 304.7,432.0 299.2,430.0 285.7,420.0 264.0,398.0 243.4,374.0 223.0,346.0 205.2,318.0 188.0,287.4 170.3,268.0 137.1,238.0 136.2,236.0 136.5,228.0 130.0,202.9Z"/>
<path fill="rgb(20,20,20)" fill-rule="evenodd" d="M130.0,180.0 1270.0,180.0 1270.0,780.0 1223.0,780.0 1212.9,778.0 1211.8,776.0 1218.0,730.0 1225.8,700.0 1225.3,690.0 1229.8,666.0 1231.7,628.0 1231.9,588.0 1230.1,566.0 1228.1,550.0 1220.2,516.0 1208.3,482.0 1202.0,473.1 1196.0,467.3 1194.0,466.7 1191.9,468.0 1188.0,473.6 1182.0,479.8 1176.0,484.2 1132.5,490.0 1100.0,495.5 1090.0,496.3 1072.0,492.1 1060.0,487.7 1056.0,485.1 1048.0,476.7 1046.0,475.7 1040.0,475.0 1036.0,472.0 1030.4,466.0 1025.3,458.0 1011.1,430.0 995.1,388.0 985.5,356.0 979.3,326.0 973.8,294.0 966.0,259.1 959.1,236.0 958.1,234.0 954.9,232.0 948.0,229.5 938.0,228.2 878.0,229.1 838.0,232.8 810.0,241.5 806.0,243.3 791.5,256.0 780.0,277.4 778.0,279.1 748.0,283.6 738.0,290.7 732.1,296.0 719.3,316.0 705.2,344.0 698.1,368.0 690.3,388.0 688.1,392.0 672.0,411.0 660.0,420.2 648.0,426.5 646.0,426.6 636.0,423.6 628.0,422.6 615.1,412.0 538.0,358.8 526.0,353.1 516.0,349.9 470.0,355.4 442.0,361.0 436.0,363.0 402.0,379.6 380.0,392.1 360.4,406.0 342.0,426.2 328.0,433.7 324.0,434.6 308.2,432.0 300.0,429.2 286.0,418.6 265.7,398.0 245.1,374.0 224.5,346.0 206.7,318.0 188.5,286.0 172.0,267.8 138.8,238.0 137.5,236.0 137.0,228.0 130.0,201.4Z"/>
<path fill="rgb(17,17,17)" fill-rule="evenodd" d="M130.0,180.0 1270.0,180.0 1270.0,780.0 1223.8,780.0 1222.0,779.1 1214.0,778.1 1212.4,776.0 1218.0,732.7 1226.5,700.0 1226.4,690.0 1230.7,668.0 1232.8,628.0 1233.0,588.0 1231.6,570.0 1228.5,546.0 1220.7,514.0 1209.1,482.0 1203.7,474.0 1196.0,466.2 1194.0,465.7 1192.0,466.8 1188.0,471.5 1180.0,478.9 1174.0,482.1 1144.0,486.9 1100.0,490.5 1090.0,490.5 1074.0,487.6 1062.0,484.4 1058.0,482.4 1048.0,473.7 1040.0,473.3 1037.8,472.0 1032.7,466.0 1027.4,458.0 1013.1,430.0 1008.8,420.0 997.1,388.0 987.5,356.0 981.2,326.0 975.8,294.0 968.0,259.2 960.0,233.9 957.6,232.0 950.0,229.1 940.0,227.6 884.0,228.1 838.0,232.3 810.0,240.9 806.0,242.7 790.8,256.0 780.3,276.0 778.0,278.5 748.0,283.0 742.0,287.0 732.0,295.3 718.8,316.0 704.7,344.0 698.0,366.9 690.0,387.6 688.0,391.2 672.0,410.3 659.2,420.0 648.0,425.6 646.0,425.7 628.0,421.2 616.0,411.7 540.0,359.4 532.0,354.9 522.0,350.8 516.0,349.2 468.0,355.1 438.0,361.5 402.0,378.9 380.0,391.3 360.0,405.6 341.4,426.0 330.0,432.2 324.0,434.1 306.0,430.7 300.2,428.0 287.0,418.0 266.0,396.6 245.0,372.0 224.6,344.0 208.0,317.8 190.0,286.0 172.0,266.2 140.0,237.6 137.9,234.0 137.0,226.0 130.0,199.9Z"/>
<path fill="rgb(13,13,13)" fill-rule="evenodd" d="M130.0,180.0 1270.0,180.0 1270.0,780.0 1224.6,780.0 1222.0,778.7 1215.4,778.0 1213.1,776.0 1218.0,736.7 1220.0,726.3 1227.2,700.0 1227.5,690.0 1231.8,668.0 1233.9,628.0 1234.0,588.0 1230.8,554.0 1228.7,542.0 1221.1,512.0 1211.1,484.0 1208.9,480.0 1204.7,474.0 1197.0,466.0 1194.0,464.8 1191.6,466.0 1180.0,476.8 1174.0,480.1 1144.0,485.2 1104.0,487.0 1088.0,486.1 1062.0,481.5 1058.0,479.5 1048.0,471.6 1042.0,472.1 1040.0,471.8 1038.0,470.4 1028.0,456.0 1013.8,428.0 999.5,390.0 989.7,358.0 983.3,328.0 977.1,292.0 969.9,260.0 962.3,236.0 960.0,232.0 952.0,228.8 940.0,226.9 884.0,227.3 838.0,231.5 808.0,240.9 804.0,243.2 790.2,256.0 780.0,275.5 778.0,278.0 748.0,282.3 744.0,284.7 732.0,294.4 719.2,314.0 704.9,342.0 698.0,365.0 688.0,390.2 671.4,410.0 658.1,420.0 650.0,424.1 646.0,424.8 628.2,420.0 616.0,410.8 587.8,392.0 538.0,357.2 524.0,350.9 516.0,348.6 466.0,354.8 438.0,360.8 404.0,377.1 380.0,390.6 360.0,404.7 340.4,426.0 328.9,432.0 324.0,433.3 308.0,430.5 302.2,428.0 288.0,417.3 267.0,396.0 246.0,371.4 225.9,344.0 208.0,315.6 190.0,284.2 173.4,266.0 140.0,236.0 139.0,234.0 137.1,224.0 130.0,198.1Z"/>
<path fill="rgb(9,9,9)" fill-rule="evenodd" d="M130.0,180.0 1270.0,180.0 1270.0,780.0 1225.3,780.0 1224.0,778.9 1216.0,777.2 1213.9,776.0 1220.0,729.7 1227.6,702.0 1228.9,690.0 1233.2,668.0 1235.3,628.0 1235.4,588.0 1231.0,546.0 1223.1,514.0 1211.3,482.0 1205.8,474.0 1198.5,466.0 1196.0,464.1 1194.0,463.8 1192.0,464.4 1178.2,476.0 1174.5,478.0 1140.0,483.7 1102.0,484.5 1078.6,482.0 1062.0,479.2 1059.5,478.0 1050.0,470.4 1048.0,469.7 1042.0,470.4 1039.8,470.0 1029.8,456.0 1016.0,428.9 1002.0,392.2 991.8,360.0 984.0,322.5 978.9,292.0 971.1,258.0 963.2,234.0 960.0,230.3 950.0,227.2 940.0,226.1 882.0,226.6 838.0,230.6 806.0,240.8 790.8,254.0 778.0,276.7 775.5,278.0 748.0,281.3 742.0,285.1 731.1,294.0 717.2,316.0 703.2,344.0 698.0,362.3 688.0,388.3 674.0,406.1 670.1,410.0 659.6,418.0 648.0,423.8 632.0,420.0 628.0,418.3 618.0,410.9 592.4,394.0 536.0,354.9 522.0,349.1 516.0,347.7 470.0,353.2 442.0,358.7 436.0,360.6 402.0,377.1 378.0,390.8 360.0,403.6 340.0,425.1 326.8,432.0 324.0,432.4 309.2,430.0 301.5,426.0 288.5,416.0 268.0,395.1 248.0,371.9 226.0,341.8 210.0,316.5 191.6,284.0 174.0,264.7 144.0,238.2 140.2,234.0 133.2,206.0 130.0,196.1Z"/>
<path fill="rgb(6,6,6)" fill-rule="evenodd" d="M130.0,180.0 1270.0,180.0 1270.0,780.0 1226.0,780.0 1222.0,777.3 1215.9,776.0 1215.5,774.0 1220.0,737.4 1222.0,727.7 1229.2,702.0 1232.0,684.6 1235.3,670.0 1237.5,628.0 1237.6,586.0 1233.4,544.0 1225.1,512.0 1214.9,484.0 1212.9,480.0 1198.0,462.6 1194.0,461.4 1190.0,462.8 1174.0,474.0 1150.2,478.0 1138.0,479.0 1102.0,479.5 1069.5,476.0 1061.3,474.0 1052.0,467.0 1048.0,465.7 1042.0,466.3 1040.0,464.8 1030.0,449.5 1018.0,425.9 1004.0,388.6 994.0,355.7 988.0,327.2 981.2,288.0 973.1,254.0 965.3,232.0 962.0,228.4 950.0,224.9 942.0,224.1 882.0,224.4 838.0,228.5 806.0,238.7 800.0,243.3 789.2,254.0 778.0,274.3 776.2,276.0 752.0,278.7 746.0,280.3 732.0,291.0 729.1,294.0 716.3,314.0 701.0,344.0 694.0,366.3 686.0,386.2 684.0,389.5 668.2,408.0 657.7,416.0 650.2,420.0 648.0,420.5 643.1,420.0 629.9,416.0 596.3,394.0 540.0,354.8 536.0,352.5 522.0,346.8 516.0,345.7 470.0,351.2 442.0,356.6 436.0,358.4 402.0,375.1 378.0,388.8 358.0,403.2 338.9,424.0 327.1,430.0 324.0,430.5 318.1,430.0 309.4,428.0 305.8,426.0 290.1,414.0 270.0,393.7 248.0,368.1 230.0,343.6 212.0,315.4 193.0,282.0 176.0,263.0 142.0,232.1 135.4,208.0 131.3,196.0 130.0,194.1Z"/>
<path fill="rgb(0,0,0)" fill-rule="evenodd" d="M130.0,180.0 1270.0,180.0 1270.0,780.0 1227.3,780.0 1223.0,776.0 1221.6,772.0 1221.5,766.0 1223.3,742.0 1227.6,732.0 1234.9,702.0 1243.5,674.0 1243.2,650.0 1247.6,572.0 1249.8,546.0 1248.0,535.7 1241.4,516.0 1234.3,500.0 1231.1,482.0 1228.0,474.4 1220.0,467.0 1196.5,442.0 1187.7,428.0 1183.5,420.0 1180.0,418.2 1168.0,415.2 1164.0,415.3 1152.0,418.3 1138.0,425.3 1132.0,427.2 1080.0,436.1 1076.0,436.4 1062.0,435.0 1052.0,435.8 1048.0,434.8 1044.1,432.0 1028.4,408.0 1018.7,384.0 1013.2,366.0 1006.4,336.0 1002.0,306.0 997.7,298.0 995.4,284.0 988.6,266.0 984.5,248.0 978.0,233.2 973.1,224.0 962.0,211.6 958.0,208.7 942.0,204.4 938.0,204.0 920.0,204.1 908.0,206.6 876.0,207.1 866.0,209.7 860.1,214.0 856.0,215.2 848.0,215.9 840.0,214.1 819.8,220.0 802.0,226.9 796.0,231.6 792.6,236.0 784.0,257.8 780.0,263.3 774.0,267.3 770.0,268.9 744.2,270.0 738.0,273.2 730.0,283.5 711.4,300.0 707.1,308.0 698.4,316.0 690.0,328.7 686.0,331.9 677.2,336.0 674.5,338.0 668.0,345.4 655.4,356.0 650.0,366.1 646.0,371.1 630.0,381.0 620.0,382.5 614.0,381.5 609.1,378.0 600.0,365.8 595.0,362.0 579.1,354.0 558.0,345.1 548.0,338.8 530.0,333.3 520.0,329.2 514.0,328.3 488.0,333.2 444.0,340.2 432.0,343.8 420.0,348.6 413.6,352.0 398.0,364.7 385.3,372.0 375.4,380.0 364.3,386.0 357.3,394.0 349.1,400.0 342.0,408.8 334.0,416.5 330.0,418.7 324.0,419.3 320.0,419.0 316.0,417.4 300.0,402.3 286.0,394.0 270.0,376.5 260.0,367.1 239.6,342.0 225.2,322.0 217.5,308.0 212.4,296.0 204.0,284.0 198.0,272.8 190.2,262.0 185.3,252.0 180.4,246.0 176.7,240.0 170.9,234.0 166.4,228.0 156.0,221.4 148.4,212.0 146.4,208.0 145.7,200.0 144.0,198.0 134.0,194.8 130.0,192.1Z"/>
</g>
<g mask="url(#smask)" opacity=".42"><rect x="130" y="180" width="1140" height="600" filter="url(#streak)"/></g>
<ellipse cx="1117" cy="711" rx="17" ry="32" fill="rgb(71,71,71)" opacity=".55" filter="url(#b6)"/>
<path d="M1113 720 L1111 772" stroke="rgb(36,36,36)" stroke-width="9" opacity=".8" fill="none" filter="url(#b3)"/>
<ellipse cx="1117.5" cy="708" rx="9.5" ry="22" fill="rgb(0,0,0)" filter="url(#b3)"/>
<ellipse cx="1160" cy="598" rx="9" ry="24" fill="rgb(69,69,69)" opacity=".5" filter="url(#b5)"/>
<ellipse cx="1160.5" cy="600" rx="4.5" ry="13" fill="rgb(20,20,20)" opacity=".9" filter="url(#b2)"/>
<ellipse cx="919.7" cy="585.6" rx="4.2" ry="5.25" fill="rgb(120,120,120)" opacity=".85" filter="url(#b1)"/>
<ellipse cx="907.9" cy="600.4" rx="3.2" ry="4.0" fill="rgb(120,120,120)" opacity=".85" filter="url(#b1)"/>
<ellipse cx="895.7" cy="613.3" rx="3" ry="3.75" fill="rgb(120,120,120)" opacity=".85" filter="url(#b1)"/>
<ellipse cx="882.8" cy="639" rx="2" ry="2.5" fill="rgb(120,120,120)" opacity=".85" filter="url(#b1)"/>
<path d="M138.7 752.6 L397.3 647.6" stroke="rgb(153,153,153)" stroke-width="5" opacity=".3" fill="none" filter="url(#b2)"/>
<path d="M143.8 750.5 L151.4 747.4" stroke="rgb(128,128,128)" stroke-width="3.2" opacity="0.5" fill="none" stroke-linecap="round" filter="url(#b1_5)"/>
<path d="M159.0 744.3 L169.2 740.2" stroke="rgb(128,128,128)" stroke-width="3.6" opacity="0.75" fill="none" stroke-linecap="round" filter="url(#b1_5)"/>
<path d="M179.3 736.1 L219.9 719.6" stroke="rgb(128,128,128)" stroke-width="3" opacity="0.5" fill="none" stroke-linecap="round" filter="url(#b1_5)"/>
<path d="M232.5 714.5 L252.8 706.3" stroke="rgb(128,128,128)" stroke-width="3" opacity="0.6" fill="none" stroke-linecap="round" filter="url(#b1_5)"/>
<path d="M270.6 699.0 L298.4 687.7" stroke="rgb(128,128,128)" stroke-width="4.4" opacity="0.8" fill="none" stroke-linecap="round" filter="url(#b1_5)"/>
<path d="M311.1 682.6 L341.5 670.2" stroke="rgb(128,128,128)" stroke-width="3.6" opacity="0.55" fill="none" stroke-linecap="round" filter="url(#b1_5)"/>
<path d="M349.1 667.2 L379.6 654.8" stroke="rgb(128,128,128)" stroke-width="3.2" opacity="0.45" fill="none" stroke-linecap="round" filter="url(#b1_5)"/>
<ellipse cx="284.8" cy="732.4" rx="1.6" ry="4" fill="rgb(128,128,128)" opacity="0.5" filter="url(#b1)"/>
<ellipse cx="307.7" cy="734.4" rx="1.6" ry="4" fill="rgb(128,128,128)" opacity="0.5" filter="url(#b1)"/>
<ellipse cx="269.6" cy="747.7" rx="1.6" ry="4" fill="rgb(128,128,128)" opacity="0.4" filter="url(#b1)"/>
<ellipse cx="345.8" cy="692.4" rx="1.5" ry="3.5" fill="rgb(128,128,128)" opacity="0.4" filter="url(#b1)"/>
<ellipse cx="204.8" cy="686.7" rx="1.7" ry="5.5" fill="rgb(128,128,128)" opacity="0.7" filter="url(#b1)"/>
<ellipse cx="376" cy="726.7" rx="1.3" ry="3" fill="rgb(128,128,128)" opacity="0.35" filter="url(#b1)"/>
<ellipse cx="360.5" cy="602" rx="1.4" ry="3.5" fill="rgb(128,128,128)" opacity="0.6" filter="url(#b1)"/>
<ellipse cx="173" cy="591" rx="1.4" ry="3.5" fill="rgb(128,128,128)" opacity="0.5" filter="url(#b1)"/>
<ellipse cx="322" cy="705" rx="1.4" ry="3" fill="rgb(128,128,128)" opacity="0.35" filter="url(#b1)"/>
<ellipse cx="352" cy="681" rx="1.4" ry="3" fill="rgb(128,128,128)" opacity="0.35" filter="url(#b1)"/>
<path d="M189.6 753 L189.6 772" stroke="rgb(158,158,158)" stroke-width="2.2" opacity="0.35" fill="none" filter="url(#b1)"/>
<path d="M199 756 L199 772" stroke="rgb(158,158,158)" stroke-width="2.2" opacity="0.3" fill="none" filter="url(#b1)"/>
<path d="M206.7 752 L206.7 772" stroke="rgb(158,158,158)" stroke-width="2.2" opacity="0.3" fill="none" filter="url(#b1)"/>
<path d="M222 754 L222 772" stroke="rgb(158,158,158)" stroke-width="2.2" opacity="0.35" fill="none" filter="url(#b1)"/>
<path d="M246.7 740 L246.7 772" stroke="rgb(158,158,158)" stroke-width="2.2" opacity="0.45" fill="none" filter="url(#b1)"/>
<path d="M260 748 L260 772" stroke="rgb(158,158,158)" stroke-width="2.2" opacity="0.3" fill="none" filter="url(#b1)"/>
<path d="M323 752 L323 772" stroke="rgb(158,158,158)" stroke-width="2.2" opacity="0.3" fill="none" filter="url(#b1)"/>
<path d="M332.5 755 L332.5 772" stroke="rgb(158,158,158)" stroke-width="2.2" opacity="0.3" fill="none" filter="url(#b1)"/>
<path d="M441 750 L441 772" stroke="rgb(158,158,158)" stroke-width="2.2" opacity="0.3" fill="none" filter="url(#b1)"/>
<path d="M152 745 L152 772" stroke="rgb(158,158,158)" stroke-width="2.2" opacity="0.35" fill="none" filter="url(#b1)"/>
<path d="M158 750 L158 772" stroke="rgb(158,158,158)" stroke-width="2.2" opacity="0.3" fill="none" filter="url(#b1)"/>
<ellipse cx="180" cy="650" rx="42" ry="34" fill="rgb(189,189,189)" opacity=".35" filter="url(#b15)"/>
</g>
<polygon points="1190.2,474.2 1202.4,474.2 1202.4,493.8 1199.8,511.1 1194.6,532 1191.1,540.6 1185,534.6 1178.1,530.2 1174.9,520.7 1177.2,507.7 1184.1,506.8 1185.9,488.6" fill="#fff"/>
<polygon points="1118,699 1121,697 1125,697 1125,706 1123,713 1120,712 1118,707" fill="#fff"/>
<rect x="1160.5" y="606" width="3.5" height="3.5" fill="#fff"/>
<rect x="1113" y="699" width="1.8" height="1.8" fill="#fff"/>
<rect x="667.2" y="393" width="1.8" height="1.8" fill="#fff" opacity=".9"/>
</g>
<rect x="1085.8" y="364.2" width="1.8" height="3.2" fill="#0b1f5e"/>
<g stroke="#000" fill="none">
<line x1="249.2" y1="135.15" x2="249.2" y2="769" stroke-width="2.0" stroke-dasharray="14.7 9.47"/>
<line x1="408.3" y1="135.15" x2="408.3" y2="769" stroke-width="2.0" stroke-dasharray="14.7 9.47"/>
<line x1="568.3" y1="135.15" x2="568.3" y2="769" stroke-width="3.4" stroke-dasharray="14.7 9.47"/>
<line x1="727.9" y1="135.15" x2="727.9" y2="769" stroke-width="2.0" stroke-dasharray="14.7 9.47"/>
<line x1="887.4" y1="135.15" x2="887.4" y2="769" stroke-width="2.0" stroke-dasharray="14.7 9.47"/>
<line x1="1046.9" y1="135.15" x2="1046.9" y2="769" stroke-width="3.6" stroke-dasharray="14.7 9.47"/>
<line x1="1205.8" y1="135.15" x2="1205.8" y2="769" stroke-width="3.4" stroke-dasharray="14.7 9.47"/>
<line x1="139.4" y1="239.7" x2="1364" y2="239.7" stroke-width="3.8" stroke-dasharray="14.8 9.43"/>
<line x1="139.4" y1="345.7" x2="1364" y2="345.7" stroke-width="1.55" stroke-dasharray="14.8 9.43"/>
<line x1="139.4" y1="452.3" x2="1364" y2="452.3" stroke-width="1.55" stroke-dasharray="14.8 9.43"/>
<line x1="139.4" y1="558.8" x2="1364" y2="558.8" stroke-width="1.55" stroke-dasharray="14.8 9.43"/>
<line x1="139.4" y1="665.3" x2="1364" y2="665.3" stroke-width="1.55" stroke-dasharray="14.8 9.43"/>
</g>
<g fill="none" stroke="#ff0000" stroke-linecap="round" stroke-linejoin="round">
<path d="M149 260 C160 285 172 305 183.4 323.3 C195 342 208 356 230 369" stroke-width="8"/>
<path d="M162 480.9 L340 480.9" stroke-width="8.4"/>
<path d="M369 432.7 C395 428 425 424 454 423 C520 421.5 620 423 700 424.4 C780 425 860 427 950 430" stroke-width="8.4"/>
</g>
<g fill="#ff0000">
<polygon points="250.6,386.7 239.8,357.2 219,384"/>
<polygon points="363.6,480.9 337.6,463.8 337.6,498"/>
<polygon points="975,429.7 948.5,412.3 948.5,447.1"/>
</g>
<path d="M402 722 C460 725.5 520 729 567 732 C640 736.5 700 739 740 739.8 C770 741 800 741.8 816 741.5 C840 741 860 740.3 883 739.6 C910 738.7 930 738.2 954 737.7 C980 737.2 1000 737 1014 737.2 C1030 737.5 1040 738.2 1047 739.6 C1056 741.3 1063 743 1069 745.6 C1073 747.5 1076 749.3 1078.3 751" fill="none" stroke="#0000ff" stroke-width="8" stroke-linecap="round"/>
<polygon points="374.3,721.7 401,705 400.5,739.6" fill="#0000ff"/>
<g opacity="0.999">
<text transform="translate(158.2,417.6) scale(0.962,1)" fill="#ff0000" font-size="30.2" font-weight="bold">Canary</text>
<text transform="translate(158.2,446.8) scale(0.962,1)" fill="#ff0000" font-size="30.2" font-weight="bold">Current</text>
<text transform="translate(157.6,513.9) scale(0.962,1)" fill="#ff0000" font-size="30.2" font-weight="bold">North</text>
<text transform="translate(157.6,543.0) scale(0.962,1)" fill="#ff0000" font-size="30.2" font-weight="bold">Equatorial</text>
<text transform="translate(158.2,572.0) scale(0.962,1)" fill="#ff0000" font-size="30.2" font-weight="bold">Current</text>
<text transform="translate(524.3,469.6) scale(0.962,1)" fill="#ff0000" font-size="30.2" font-weight="bold">Guinea</text>
<text transform="translate(525.3,498.8) scale(0.962,1)" fill="#ff0000" font-size="30.2" font-weight="bold">Current</text>
<text transform="translate(585.7,722.4) scale(0.962,1)" fill="#0000ff" font-size="30.2" font-weight="bold">South Equatorial Current</text>
<text transform="translate(41.5,169.8) scale(0.967,1)" fill="#000" font-size="51.3">7</text><ellipse cx="78.1" cy="142.6" rx="6.55" ry="7.7" fill="none" stroke="#000" stroke-width="3.3"/><text transform="translate(101.0,169.8) scale(0.967,1)" fill="#000" font-size="51.3">N</text>
<text transform="translate(41.5,362.3) scale(0.967,1)" fill="#000" font-size="51.3">5</text><ellipse cx="78.1" cy="335.1" rx="6.55" ry="7.7" fill="none" stroke="#000" stroke-width="3.3"/><text transform="translate(101.0,362.3) scale(0.967,1)" fill="#000" font-size="51.3">N</text>
<text transform="translate(41.5,557.7) scale(0.967,1)" fill="#000" font-size="51.3">3</text><ellipse cx="78.1" cy="530.5" rx="6.55" ry="7.7" fill="none" stroke="#000" stroke-width="3.3"/><text transform="translate(101.0,557.7) scale(0.967,1)" fill="#000" font-size="51.3">N</text>
<path d="M59.9 773.3 L55.0 773.3 L55.0 745.0 C52.5 746.8 49.5 748.8 46.4 750.3 L46.2 746.3 C50.5 744.3 54.0 741.3 56.3 737.3 L59.9 737.3 Z" fill="#000"/><ellipse cx="78.0" cy="746.1" rx="6.55" ry="7.7" fill="none" stroke="#000" stroke-width="3.3"/><text transform="translate(100.9,773.3) scale(0.967,1)" fill="#000" font-size="51.3">N</text>
<path d="M155.1 831.4 L150.2 831.4 L150.2 803.1 C147.7 804.9 144.7 806.9 141.6 808.4 L141.4 804.4 C145.7 802.4 149.2 799.4 151.5 795.4 L155.1 795.4 Z" fill="#000"/><text transform="translate(164.2,831.4) scale(0.967,1)" fill="#000" font-size="51.3">0</text><ellipse cx="200.8" cy="804.2" rx="6.55" ry="7.7" fill="none" stroke="#000" stroke-width="3.3"/><text transform="translate(223.6,831.4) scale(0.967,1)" fill="#000" font-size="51.3">W</text>
<text transform="translate(424.2,833.8) scale(0.967,1)" fill="#000" font-size="51.3">5</text><ellipse cx="460.8" cy="806.6" rx="6.55" ry="7.7" fill="none" stroke="#000" stroke-width="3.3"/><text transform="translate(483.7,833.8) scale(0.967,1)" fill="#000" font-size="51.3">W</text>
<text transform="translate(714.3,833.8) scale(0.967,1)" fill="#000" font-size="51.3">0</text><ellipse cx="750.9" cy="806.6" rx="6.55" ry="7.7" fill="none" stroke="#000" stroke-width="3.3"/>
<text transform="translate(963.5,829.6) scale(0.967,1)" fill="#000" font-size="51.3">5</text><ellipse cx="1000.1" cy="802.4" rx="6.55" ry="7.7" fill="none" stroke="#000" stroke-width="3.3"/><text transform="translate(1023.0,829.6) scale(0.967,1)" fill="#000" font-size="51.3">E</text>
<path d="M1224.1 828.4 L1219.2 828.4 L1219.2 800.1 C1216.7 801.9 1213.7 803.9 1210.6 805.4 L1210.4 801.4 C1214.7 799.4 1218.2 796.4 1220.5 792.4 L1224.1 792.4 Z" fill="#000"/><text transform="translate(1233.2,828.4) scale(0.967,1)" fill="#000" font-size="51.3">0</text><ellipse cx="1269.8" cy="801.2" rx="6.55" ry="7.7" fill="none" stroke="#000" stroke-width="3.3"/><text transform="translate(1292.6,828.4) scale(0.967,1)" fill="#000" font-size="51.3">E</text>
</g>
<g opacity="0.999"><text transform="translate(1352.2,93.8) scale(0.962,1)" fill="#000" font-size="51.7" font-weight="bold">Depth (m)</text></g>
<rect x="1401.5" y="132.3" width="68" height="639.5" fill="url(#cbg)" stroke="#3a3a3a" stroke-width="1.2"/>
<g stroke="#262626" stroke-width="1.3">
<line x1="1461.5" y1="238.9" x2="1469.5" y2="238.9"/>
<line x1="1461.5" y1="345.5" x2="1469.5" y2="345.5"/>
<line x1="1461.5" y1="452.0" x2="1469.5" y2="452.0"/>
<line x1="1461.5" y1="558.6" x2="1469.5" y2="558.6"/>
<line x1="1461.5" y1="665.2" x2="1469.5" y2="665.2"/>
</g>
<g fill="#303030" font-size="40.4" opacity="0.999">
<text x="1486" y="145.0" textLength="22" lengthAdjust="spacingAndGlyphs">0</text>
<text x="1485" y="251.7" textLength="108.5" lengthAdjust="spacingAndGlyphs">-1000</text>
<text x="1485" y="358.5" textLength="108.5" lengthAdjust="spacingAndGlyphs">-2000</text>
<text x="1485" y="465.4" textLength="108.5" lengthAdjust="spacingAndGlyphs">-3000</text>
<text x="1485" y="572.3" textLength="108.5" lengthAdjust="spacingAndGlyphs">-4000</text>
<text x="1485" y="679.2" textLength="108.5" lengthAdjust="spacingAndGlyphs">-5000</text>
<text x="1485" y="786.0" textLength="108.5" lengthAdjust="spacingAndGlyphs">-6000</text>
</g>
</svg>
</body></html>
